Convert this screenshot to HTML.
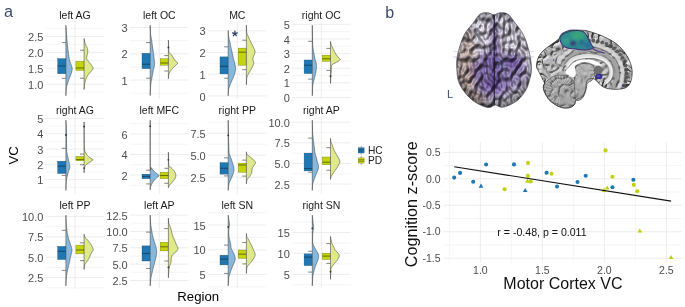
<!DOCTYPE html>
<html><head><meta charset="utf-8"><style>
html,body{margin:0;padding:0;background:#fff;}
svg{display:block;font-family:"Liberation Sans", sans-serif;will-change:transform;}
</style></head><body>
<svg width="685" height="307" viewBox="0 0 685 307">
<rect width="685" height="307" fill="#fff"/>
<line x1="45.7" x2="104.3" y1="92.17" y2="92.17" stroke="#ebebeb" stroke-width="0.5"/>
<line x1="45.7" x2="104.3" y1="76.24" y2="76.24" stroke="#ebebeb" stroke-width="0.5"/>
<line x1="45.7" x2="104.3" y1="60.3" y2="60.3" stroke="#ebebeb" stroke-width="0.5"/>
<line x1="45.7" x2="104.3" y1="44.37" y2="44.37" stroke="#ebebeb" stroke-width="0.5"/>
<line x1="45.7" x2="104.3" y1="28.43" y2="28.43" stroke="#ebebeb" stroke-width="0.5"/>
<line x1="45.7" x2="104.3" y1="84.2" y2="84.2" stroke="#ebebeb" stroke-width="0.9"/>
<line x1="45.7" x2="104.3" y1="68.27" y2="68.27" stroke="#ebebeb" stroke-width="0.9"/>
<line x1="45.7" x2="104.3" y1="52.34" y2="52.34" stroke="#ebebeb" stroke-width="0.9"/>
<line x1="45.7" x2="104.3" y1="36.4" y2="36.4" stroke="#ebebeb" stroke-width="0.9"/>
<line x1="75" x2="75" y1="21.9" y2="99" stroke="#ebebeb" stroke-width="0.9"/>
<text x="43.4" y="88.8" text-anchor="end" font-size="11" fill="#4d4d4d">1.0</text>
<text x="43.4" y="72.87" text-anchor="end" font-size="11" fill="#4d4d4d">1.5</text>
<text x="43.4" y="56.94" text-anchor="end" font-size="11" fill="#4d4d4d">2.0</text>
<text x="43.4" y="41" text-anchor="end" font-size="11" fill="#4d4d4d">2.5</text>
<text x="75" y="18.9" text-anchor="middle" font-size="10.5" fill="#1a1a1a">left AG</text>
<rect x="57.7" y="58.7" width="8.2" height="15" fill="#1f78b4" stroke="#164a70" stroke-width="0.35"/>
<line x1="57.7" x2="65.9" y1="65.9" y2="65.9" stroke="#164a70" stroke-width="1.1"/>
<line x1="61.8" x2="65.9" y1="42.6" y2="42.6" stroke="#505050" stroke-width="0.7"/>
<line x1="61.8" x2="65.9" y1="78.4" y2="78.4" stroke="#505050" stroke-width="0.7"/>
<path d="M65.90,25.30 L65.90,25.30 L65.97,26.38 L66.07,27.89 L66.18,29.66 L66.31,31.55 L66.43,33.38 L66.55,35.00 L66.66,36.41 L66.76,37.74 L66.86,39.01 L66.96,40.26 L67.08,41.52 L67.20,42.80 L67.33,44.11 L67.47,45.43 L67.62,46.75 L67.78,48.07 L67.94,49.39 L68.10,50.70 L68.27,52.05 L68.45,53.45 L68.64,54.84 L68.83,56.19 L69.01,57.42 L69.20,58.50 L69.38,59.40 L69.57,60.15 L69.75,60.80 L69.93,61.38 L70.12,61.94 L70.30,62.50 L70.49,63.06 L70.68,63.57 L70.87,64.06 L71.06,64.54 L71.23,65.01 L71.40,65.50 L71.56,66.01 L71.73,66.52 L71.89,67.03 L72.03,67.54 L72.13,68.03 L72.20,68.50 L72.22,68.93 L72.21,69.31 L72.18,69.69 L72.11,70.07 L72.01,70.50 L71.90,71.00 L71.76,71.58 L71.58,72.23 L71.38,72.92 L71.16,73.63 L70.93,74.33 L70.70,75.00 L70.45,75.64 L70.19,76.27 L69.91,76.90 L69.63,77.53 L69.35,78.16 L69.10,78.80 L68.86,79.46 L68.64,80.12 L68.43,80.79 L68.21,81.47 L68.01,82.14 L67.80,82.80 L67.58,83.46 L67.36,84.13 L67.14,84.79 L66.94,85.45 L66.75,86.09 L66.60,86.70 L66.49,87.26 L66.40,87.76 L66.34,88.24 L66.30,88.74 L66.25,89.32 L66.20,90.00 L66.14,90.88 L66.08,91.93 L66.03,93.06 L65.97,94.13 L65.93,95.05 L65.90,95.70 L65.90,95.70 Z" fill="#86b8de" stroke="#3c3c3c" stroke-width="0.55" stroke-linejoin="round"/>
<rect x="75.9" y="61.3" width="8.2" height="9.1" fill="#c4d40e" stroke="#6b7400" stroke-width="0.35"/>
<line x1="75.9" x2="84.1" y1="68" y2="68" stroke="#6b7400" stroke-width="1.1"/>
<line x1="80" x2="84.1" y1="50.2" y2="50.2" stroke="#505050" stroke-width="0.7"/>
<line x1="80" x2="84.1" y1="78.2" y2="78.2" stroke="#505050" stroke-width="0.7"/>
<path d="M84.10,38.50 L84.10,38.50 L84.15,38.77 L84.22,39.13 L84.30,39.56 L84.39,40.03 L84.49,40.52 L84.60,41.00 L84.71,41.48 L84.81,41.98 L84.93,42.50 L85.06,43.03 L85.22,43.56 L85.40,44.10 L85.63,44.65 L85.91,45.21 L86.21,45.78 L86.50,46.34 L86.78,46.89 L87.00,47.40 L87.18,47.87 L87.33,48.29 L87.46,48.70 L87.56,49.11 L87.64,49.53 L87.70,50.00 L87.74,50.51 L87.75,51.05 L87.74,51.61 L87.71,52.18 L87.67,52.75 L87.60,53.30 L87.50,53.85 L87.36,54.40 L87.19,54.94 L87.03,55.48 L86.90,56.00 L86.80,56.50 L86.73,56.97 L86.66,57.40 L86.62,57.83 L86.61,58.24 L86.67,58.66 L86.80,59.10 L87.02,59.54 L87.31,59.98 L87.66,60.42 L88.06,60.88 L88.47,61.37 L88.90,61.90 L89.37,62.50 L89.90,63.17 L90.46,63.86 L91.00,64.56 L91.49,65.21 L91.90,65.80 L92.24,66.31 L92.54,66.76 L92.79,67.18 L92.97,67.58 L93.08,67.98 L93.10,68.40 L93.02,68.82 L92.84,69.21 L92.59,69.61 L92.28,70.03 L91.91,70.49 L91.50,71.00 L91.01,71.59 L90.41,72.24 L89.77,72.93 L89.12,73.63 L88.51,74.33 L88.00,75.00 L87.58,75.64 L87.23,76.27 L86.91,76.90 L86.63,77.53 L86.36,78.16 L86.10,78.80 L85.84,79.46 L85.59,80.15 L85.36,80.84 L85.14,81.52 L84.96,82.18 L84.80,82.80 L84.68,83.38 L84.60,83.91 L84.54,84.43 L84.49,84.94 L84.45,85.46 L84.40,86.00 L84.34,86.61 L84.28,87.27 L84.22,87.95 L84.17,88.58 L84.13,89.12 L84.10,89.50 L84.10,89.50 Z" fill="#e0e98a" stroke="#3c3c3c" stroke-width="0.55" stroke-linejoin="round"/>
<line x1="130" x2="188.6" y1="93.25" y2="93.25" stroke="#ebebeb" stroke-width="0.5"/>
<line x1="130" x2="188.6" y1="66.95" y2="66.95" stroke="#ebebeb" stroke-width="0.5"/>
<line x1="130" x2="188.6" y1="40.65" y2="40.65" stroke="#ebebeb" stroke-width="0.5"/>
<line x1="130" x2="188.6" y1="80.1" y2="80.1" stroke="#ebebeb" stroke-width="0.9"/>
<line x1="130" x2="188.6" y1="53.8" y2="53.8" stroke="#ebebeb" stroke-width="0.9"/>
<line x1="130" x2="188.6" y1="27.5" y2="27.5" stroke="#ebebeb" stroke-width="0.9"/>
<line x1="159.3" x2="159.3" y1="21.9" y2="99" stroke="#ebebeb" stroke-width="0.9"/>
<text x="127.7" y="84.7" text-anchor="end" font-size="11" fill="#4d4d4d">1</text>
<text x="127.7" y="58.4" text-anchor="end" font-size="11" fill="#4d4d4d">2</text>
<text x="127.7" y="32.1" text-anchor="end" font-size="11" fill="#4d4d4d">3</text>
<text x="159.3" y="18.9" text-anchor="middle" font-size="10.5" fill="#1a1a1a">left OC</text>
<rect x="142" y="53.3" width="8.2" height="15.3" fill="#1f78b4" stroke="#164a70" stroke-width="0.35"/>
<line x1="142" x2="150.2" y1="64.2" y2="64.2" stroke="#164a70" stroke-width="1.1"/>
<line x1="146.1" x2="150.2" y1="42.6" y2="42.6" stroke="#505050" stroke-width="0.7"/>
<line x1="146.1" x2="150.2" y1="78.2" y2="78.2" stroke="#505050" stroke-width="0.7"/>
<path d="M150.20,25.30 L150.20,25.30 L150.25,26.42 L150.32,28.03 L150.40,29.91 L150.49,31.84 L150.59,33.61 L150.70,35.00 L150.82,35.99 L150.96,36.73 L151.10,37.31 L151.24,37.81 L151.38,38.32 L151.50,38.90 L151.60,39.53 L151.68,40.15 L151.76,40.76 L151.83,41.40 L151.91,42.07 L152.00,42.80 L152.10,43.60 L152.21,44.47 L152.33,45.37 L152.45,46.29 L152.58,47.21 L152.70,48.10 L152.83,48.97 L152.97,49.84 L153.11,50.71 L153.24,51.57 L153.38,52.43 L153.50,53.30 L153.61,54.19 L153.72,55.10 L153.82,56.01 L153.91,56.89 L154.01,57.73 L154.10,58.50 L154.20,59.18 L154.30,59.78 L154.40,60.34 L154.49,60.87 L154.56,61.42 L154.60,62.00 L154.62,62.61 L154.61,63.24 L154.59,63.88 L154.54,64.51 L154.48,65.16 L154.40,65.80 L154.29,66.44 L154.15,67.09 L153.99,67.74 L153.82,68.40 L153.65,69.05 L153.50,69.70 L153.36,70.35 L153.22,71.00 L153.09,71.65 L152.96,72.30 L152.83,72.95 L152.70,73.60 L152.58,74.25 L152.46,74.90 L152.35,75.54 L152.24,76.19 L152.12,76.84 L152.00,77.50 L151.87,78.16 L151.73,78.83 L151.59,79.50 L151.45,80.17 L151.32,80.84 L151.20,81.50 L151.10,82.15 L151.00,82.78 L150.92,83.41 L150.84,84.05 L150.77,84.71 L150.70,85.40 L150.64,86.12 L150.58,86.85 L150.53,87.60 L150.49,88.37 L150.44,89.17 L150.40,90.00 L150.36,90.93 L150.32,91.97 L150.28,93.04 L150.25,94.04 L150.22,94.89 L150.20,95.50 L150.20,95.50 Z" fill="#86b8de" stroke="#3c3c3c" stroke-width="0.55" stroke-linejoin="round"/>
<rect x="160.2" y="58.8" width="8.2" height="6.4" fill="#c4d40e" stroke="#6b7400" stroke-width="0.35"/>
<line x1="160.2" x2="168.4" y1="63" y2="63" stroke="#6b7400" stroke-width="1.1"/>
<line x1="164.3" x2="168.4" y1="55.6" y2="55.6" stroke="#505050" stroke-width="0.7"/>
<line x1="164.3" x2="168.4" y1="71" y2="71" stroke="#505050" stroke-width="0.7"/>
<path d="M168.40,40.20 L168.40,40.20 L168.43,40.96 L168.48,42.03 L168.54,43.29 L168.60,44.61 L168.65,45.89 L168.70,47.00 L168.72,47.97 L168.72,48.91 L168.71,49.81 L168.73,50.63 L168.78,51.37 L168.90,52.00 L169.09,52.49 L169.34,52.84 L169.64,53.10 L169.96,53.33 L170.28,53.58 L170.60,53.90 L170.92,54.29 L171.26,54.71 L171.61,55.16 L171.96,55.61 L172.29,56.06 L172.60,56.50 L172.88,56.94 L173.14,57.39 L173.38,57.84 L173.62,58.28 L173.86,58.70 L174.10,59.10 L174.34,59.47 L174.58,59.81 L174.82,60.13 L175.06,60.45 L175.32,60.77 L175.60,61.10 L175.96,61.44 L176.39,61.77 L176.84,62.11 L177.24,62.46 L177.52,62.82 L177.60,63.20 L177.46,63.60 L177.13,64.03 L176.69,64.47 L176.18,64.91 L175.66,65.36 L175.20,65.80 L174.77,66.23 L174.33,66.67 L173.88,67.10 L173.43,67.53 L173.00,67.97 L172.60,68.40 L172.23,68.83 L171.87,69.27 L171.54,69.70 L171.21,70.13 L170.90,70.57 L170.60,71.00 L170.30,71.44 L169.99,71.87 L169.70,72.31 L169.43,72.75 L169.19,73.18 L169.00,73.60 L168.86,74.01 L168.77,74.40 L168.71,74.79 L168.67,75.18 L168.64,75.58 L168.60,76.00 L168.55,76.48 L168.51,77.01 L168.47,77.55 L168.44,78.06 L168.42,78.49 L168.40,78.80 L168.40,78.80 Z" fill="#e0e98a" stroke="#3c3c3c" stroke-width="0.55" stroke-linejoin="round"/>
<circle cx="168.4" cy="47.4" r="0.9" fill="#333"/>
<line x1="208" x2="266.6" y1="85.04" y2="85.04" stroke="#ebebeb" stroke-width="0.5"/>
<line x1="208" x2="266.6" y1="63.31" y2="63.31" stroke="#ebebeb" stroke-width="0.5"/>
<line x1="208" x2="266.6" y1="41.58" y2="41.58" stroke="#ebebeb" stroke-width="0.5"/>
<line x1="208" x2="266.6" y1="95.9" y2="95.9" stroke="#ebebeb" stroke-width="0.9"/>
<line x1="208" x2="266.6" y1="74.17" y2="74.17" stroke="#ebebeb" stroke-width="0.9"/>
<line x1="208" x2="266.6" y1="52.44" y2="52.44" stroke="#ebebeb" stroke-width="0.9"/>
<line x1="208" x2="266.6" y1="30.71" y2="30.71" stroke="#ebebeb" stroke-width="0.9"/>
<line x1="237.3" x2="237.3" y1="21.9" y2="99" stroke="#ebebeb" stroke-width="0.9"/>
<text x="205.7" y="100.5" text-anchor="end" font-size="11" fill="#4d4d4d">0</text>
<text x="205.7" y="78.77" text-anchor="end" font-size="11" fill="#4d4d4d">1</text>
<text x="205.7" y="57.04" text-anchor="end" font-size="11" fill="#4d4d4d">2</text>
<text x="205.7" y="35.31" text-anchor="end" font-size="11" fill="#4d4d4d">3</text>
<text x="237.3" y="18.9" text-anchor="middle" font-size="10.5" fill="#1a1a1a">MC</text>
<rect x="220" y="56.9" width="8.2" height="17" fill="#1f78b4" stroke="#164a70" stroke-width="0.35"/>
<line x1="220" x2="228.2" y1="66.3" y2="66.3" stroke="#164a70" stroke-width="1.1"/>
<line x1="224.1" x2="228.2" y1="46.8" y2="46.8" stroke="#505050" stroke-width="0.7"/>
<line x1="224.1" x2="228.2" y1="78.2" y2="78.2" stroke="#505050" stroke-width="0.7"/>
<path d="M228.20,30.50 L228.20,30.50 L228.23,31.00 L228.27,31.69 L228.31,32.51 L228.37,33.38 L228.43,34.23 L228.50,35.00 L228.58,35.68 L228.67,36.34 L228.76,36.99 L228.87,37.62 L228.98,38.26 L229.10,38.90 L229.23,39.55 L229.38,40.20 L229.54,40.84 L229.70,41.49 L229.85,42.14 L230.00,42.80 L230.14,43.46 L230.27,44.13 L230.40,44.80 L230.53,45.47 L230.66,46.14 L230.80,46.80 L230.94,47.46 L231.09,48.11 L231.24,48.76 L231.40,49.40 L231.55,50.05 L231.70,50.70 L231.85,51.35 L232.00,52.00 L232.16,52.65 L232.31,53.30 L232.46,53.95 L232.60,54.60 L232.73,55.24 L232.86,55.87 L232.98,56.50 L233.10,57.14 L233.24,57.80 L233.40,58.50 L233.59,59.23 L233.81,59.99 L234.04,60.77 L234.28,61.57 L234.50,62.38 L234.70,63.20 L234.89,64.05 L235.09,64.94 L235.27,65.85 L235.43,66.74 L235.54,67.60 L235.60,68.40 L235.59,69.13 L235.54,69.80 L235.44,70.43 L235.31,71.05 L235.16,71.67 L235.00,72.30 L234.83,72.95 L234.63,73.60 L234.41,74.25 L234.18,74.90 L233.94,75.55 L233.70,76.20 L233.45,76.85 L233.19,77.50 L232.93,78.14 L232.65,78.79 L232.38,79.44 L232.10,80.10 L231.82,80.76 L231.53,81.43 L231.24,82.10 L230.96,82.77 L230.67,83.44 L230.40,84.10 L230.13,84.77 L229.84,85.46 L229.57,86.14 L229.31,86.80 L229.08,87.43 L228.90,88.00 L228.77,88.48 L228.68,88.87 L228.63,89.22 L228.59,89.60 L228.55,90.04 L228.50,90.60 L228.44,91.36 L228.38,92.30 L228.33,93.31 L228.27,94.29 L228.23,95.12 L228.20,95.70 L228.20,95.70 Z" fill="#86b8de" stroke="#3c3c3c" stroke-width="0.55" stroke-linejoin="round"/>
<rect x="238.2" y="48.1" width="8.2" height="17.1" fill="#c4d40e" stroke="#6b7400" stroke-width="0.35"/>
<line x1="238.2" x2="246.4" y1="52.2" y2="52.2" stroke="#6b7400" stroke-width="1.1"/>
<line x1="242.3" x2="246.4" y1="40.2" y2="40.2" stroke="#505050" stroke-width="0.7"/>
<line x1="242.3" x2="246.4" y1="69.7" y2="69.7" stroke="#505050" stroke-width="0.7"/>
<path d="M246.40,25.30 L246.40,25.30 L246.42,26.12 L246.45,27.31 L246.49,28.69 L246.54,30.10 L246.61,31.39 L246.70,32.40 L246.82,33.08 L246.96,33.55 L247.12,33.90 L247.30,34.20 L247.49,34.54 L247.70,35.00 L247.93,35.57 L248.18,36.20 L248.44,36.87 L248.72,37.55 L249.01,38.23 L249.30,38.90 L249.60,39.55 L249.91,40.20 L250.22,40.84 L250.55,41.49 L250.87,42.14 L251.20,42.80 L251.53,43.46 L251.87,44.13 L252.21,44.80 L252.55,45.47 L252.88,46.14 L253.20,46.80 L253.53,47.46 L253.87,48.13 L254.20,48.80 L254.50,49.46 L254.74,50.09 L254.90,50.70 L254.97,51.27 L254.96,51.81 L254.89,52.34 L254.78,52.85 L254.64,53.37 L254.50,53.90 L254.32,54.45 L254.09,55.02 L253.84,55.59 L253.59,56.15 L253.36,56.69 L253.20,57.20 L253.09,57.68 L253.02,58.13 L252.97,58.57 L252.96,58.99 L252.97,59.40 L253.00,59.80 L253.08,60.19 L253.20,60.55 L253.36,60.91 L253.51,61.26 L253.63,61.62 L253.70,62.00 L253.73,62.38 L253.73,62.76 L253.71,63.14 L253.65,63.55 L253.55,64.00 L253.40,64.50 L253.19,65.07 L252.93,65.70 L252.62,66.36 L252.29,67.05 L251.95,67.73 L251.60,68.40 L251.24,69.05 L250.86,69.70 L250.46,70.35 L250.06,71.00 L249.67,71.65 L249.30,72.30 L248.93,72.97 L248.56,73.65 L248.19,74.33 L247.85,75.00 L247.55,75.63 L247.30,76.20 L247.12,76.67 L246.99,77.04 L246.89,77.38 L246.83,77.74 L246.77,78.19 L246.70,78.80 L246.63,79.66 L246.57,80.74 L246.51,81.91 L246.47,83.05 L246.43,84.02 L246.40,84.70 L246.40,84.70 Z" fill="#e0e98a" stroke="#3c3c3c" stroke-width="0.55" stroke-linejoin="round"/>
<line x1="292.1" x2="350.7" y1="90.15" y2="90.15" stroke="#ebebeb" stroke-width="0.5"/>
<line x1="292.1" x2="350.7" y1="75.53" y2="75.53" stroke="#ebebeb" stroke-width="0.5"/>
<line x1="292.1" x2="350.7" y1="60.91" y2="60.91" stroke="#ebebeb" stroke-width="0.5"/>
<line x1="292.1" x2="350.7" y1="46.29" y2="46.29" stroke="#ebebeb" stroke-width="0.5"/>
<line x1="292.1" x2="350.7" y1="31.67" y2="31.67" stroke="#ebebeb" stroke-width="0.5"/>
<line x1="292.1" x2="350.7" y1="97.46" y2="97.46" stroke="#ebebeb" stroke-width="0.9"/>
<line x1="292.1" x2="350.7" y1="82.84" y2="82.84" stroke="#ebebeb" stroke-width="0.9"/>
<line x1="292.1" x2="350.7" y1="68.22" y2="68.22" stroke="#ebebeb" stroke-width="0.9"/>
<line x1="292.1" x2="350.7" y1="53.6" y2="53.6" stroke="#ebebeb" stroke-width="0.9"/>
<line x1="292.1" x2="350.7" y1="38.98" y2="38.98" stroke="#ebebeb" stroke-width="0.9"/>
<line x1="292.1" x2="350.7" y1="24.36" y2="24.36" stroke="#ebebeb" stroke-width="0.9"/>
<line x1="321.4" x2="321.4" y1="21.9" y2="99" stroke="#ebebeb" stroke-width="0.9"/>
<text x="289.8" y="102.06" text-anchor="end" font-size="11" fill="#4d4d4d">0</text>
<text x="289.8" y="87.44" text-anchor="end" font-size="11" fill="#4d4d4d">1</text>
<text x="289.8" y="72.82" text-anchor="end" font-size="11" fill="#4d4d4d">2</text>
<text x="289.8" y="58.2" text-anchor="end" font-size="11" fill="#4d4d4d">3</text>
<text x="289.8" y="43.58" text-anchor="end" font-size="11" fill="#4d4d4d">4</text>
<text x="289.8" y="28.96" text-anchor="end" font-size="11" fill="#4d4d4d">5</text>
<text x="321.4" y="18.9" text-anchor="middle" font-size="10.5" fill="#1a1a1a">right OC</text>
<rect x="304.1" y="60" width="8.2" height="13.6" fill="#1f78b4" stroke="#164a70" stroke-width="0.35"/>
<line x1="304.1" x2="312.3" y1="65.2" y2="65.2" stroke="#164a70" stroke-width="1.1"/>
<line x1="308.2" x2="312.3" y1="41.3" y2="41.3" stroke="#505050" stroke-width="0.7"/>
<line x1="308.2" x2="312.3" y1="79.1" y2="79.1" stroke="#505050" stroke-width="0.7"/>
<path d="M312.30,25.30 L312.30,25.30 L312.33,27.35 L312.37,30.29 L312.42,33.72 L312.48,37.22 L312.54,40.39 L312.60,42.80 L312.66,44.39 L312.71,45.47 L312.76,46.22 L312.83,46.79 L312.90,47.36 L313.00,48.10 L313.12,48.97 L313.26,49.84 L313.41,50.71 L313.57,51.57 L313.74,52.43 L313.90,53.30 L314.06,54.19 L314.23,55.10 L314.39,56.01 L314.56,56.90 L314.73,57.74 L314.90,58.50 L315.07,59.17 L315.25,59.75 L315.42,60.28 L315.60,60.80 L315.76,61.33 L315.90,61.90 L316.03,62.52 L316.16,63.16 L316.28,63.82 L316.38,64.48 L316.46,65.14 L316.50,65.80 L316.51,66.45 L316.48,67.10 L316.42,67.75 L316.36,68.40 L316.28,69.05 L316.20,69.70 L316.12,70.35 L316.04,71.00 L315.94,71.65 L315.84,72.30 L315.73,72.95 L315.60,73.60 L315.46,74.25 L315.30,74.90 L315.12,75.54 L314.95,76.19 L314.77,76.84 L314.60,77.50 L314.43,78.16 L314.26,78.83 L314.09,79.50 L313.92,80.17 L313.76,80.84 L313.60,81.50 L313.45,82.15 L313.30,82.78 L313.16,83.41 L313.02,84.05 L312.90,84.71 L312.80,85.40 L312.72,86.11 L312.66,86.84 L312.61,87.59 L312.57,88.36 L312.54,89.16 L312.50,90.00 L312.46,90.95 L312.42,92.03 L312.38,93.14 L312.35,94.18 L312.32,95.07 L312.30,95.70 L312.30,95.70 Z" fill="#86b8de" stroke="#3c3c3c" stroke-width="0.55" stroke-linejoin="round"/>
<rect x="322.3" y="55.2" width="8.2" height="6.1" fill="#c4d40e" stroke="#6b7400" stroke-width="0.35"/>
<line x1="322.3" x2="330.5" y1="58.8" y2="58.8" stroke="#6b7400" stroke-width="1.1"/>
<line x1="326.4" x2="330.5" y1="48.4" y2="48.4" stroke="#505050" stroke-width="0.7"/>
<line x1="326.4" x2="330.5" y1="70.4" y2="70.4" stroke="#505050" stroke-width="0.7"/>
<path d="M330.50,41.30 L330.50,41.30 L330.55,41.61 L330.61,42.03 L330.68,42.53 L330.77,43.07 L330.88,43.61 L331.00,44.10 L331.14,44.54 L331.29,44.96 L331.46,45.38 L331.65,45.81 L331.86,46.28 L332.10,46.80 L332.37,47.38 L332.66,48.01 L332.98,48.67 L333.31,49.36 L333.66,50.04 L334.00,50.70 L334.35,51.36 L334.70,52.03 L335.07,52.69 L335.44,53.35 L335.82,53.99 L336.20,54.60 L336.60,55.19 L337.02,55.78 L337.44,56.35 L337.86,56.89 L338.25,57.37 L338.60,57.80 L338.93,58.15 L339.26,58.43 L339.56,58.67 L339.81,58.88 L340.00,59.08 L340.10,59.30 L340.12,59.52 L340.06,59.72 L339.94,59.92 L339.76,60.12 L339.51,60.35 L339.20,60.60 L338.81,60.89 L338.32,61.22 L337.77,61.56 L337.19,61.91 L336.59,62.26 L336.00,62.60 L335.38,62.93 L334.70,63.26 L334.00,63.58 L333.34,63.90 L332.75,64.21 L332.30,64.50 L331.99,64.73 L331.79,64.90 L331.68,65.06 L331.61,65.26 L331.56,65.55 L331.50,66.00 L331.45,66.64 L331.43,67.44 L331.43,68.34 L331.43,69.28 L331.43,70.18 L331.40,71.00 L331.35,71.71 L331.29,72.37 L331.21,73.00 L331.14,73.63 L331.06,74.29 L331.00,75.00 L330.94,75.79 L330.89,76.65 L330.84,77.54 L330.79,78.41 L330.74,79.25 L330.70,80.00 L330.66,80.70 L330.62,81.38 L330.58,82.01 L330.55,82.58 L330.52,83.05 L330.50,83.40 L330.50,83.40 Z" fill="#e0e98a" stroke="#3c3c3c" stroke-width="0.55" stroke-linejoin="round"/>
<circle cx="330.5" cy="76.2" r="0.9" fill="#333"/>
<line x1="45.7" x2="104.3" y1="187.25" y2="187.25" stroke="#ebebeb" stroke-width="0.5"/>
<line x1="45.7" x2="104.3" y1="171.95" y2="171.95" stroke="#ebebeb" stroke-width="0.5"/>
<line x1="45.7" x2="104.3" y1="156.65" y2="156.65" stroke="#ebebeb" stroke-width="0.5"/>
<line x1="45.7" x2="104.3" y1="141.35" y2="141.35" stroke="#ebebeb" stroke-width="0.5"/>
<line x1="45.7" x2="104.3" y1="126.05" y2="126.05" stroke="#ebebeb" stroke-width="0.5"/>
<line x1="45.7" x2="104.3" y1="179.6" y2="179.6" stroke="#ebebeb" stroke-width="0.9"/>
<line x1="45.7" x2="104.3" y1="164.3" y2="164.3" stroke="#ebebeb" stroke-width="0.9"/>
<line x1="45.7" x2="104.3" y1="149" y2="149" stroke="#ebebeb" stroke-width="0.9"/>
<line x1="45.7" x2="104.3" y1="133.7" y2="133.7" stroke="#ebebeb" stroke-width="0.9"/>
<line x1="45.7" x2="104.3" y1="118.4" y2="118.4" stroke="#ebebeb" stroke-width="0.9"/>
<line x1="75" x2="75" y1="116.7" y2="193.8" stroke="#ebebeb" stroke-width="0.9"/>
<text x="43.4" y="184.2" text-anchor="end" font-size="11" fill="#4d4d4d">1</text>
<text x="43.4" y="168.9" text-anchor="end" font-size="11" fill="#4d4d4d">2</text>
<text x="43.4" y="153.6" text-anchor="end" font-size="11" fill="#4d4d4d">3</text>
<text x="43.4" y="138.3" text-anchor="end" font-size="11" fill="#4d4d4d">4</text>
<text x="43.4" y="123" text-anchor="end" font-size="11" fill="#4d4d4d">5</text>
<text x="75" y="113.7" text-anchor="middle" font-size="10.5" fill="#1a1a1a">right AG</text>
<rect x="57.7" y="161.2" width="8.2" height="12.3" fill="#1f78b4" stroke="#164a70" stroke-width="0.35"/>
<line x1="57.7" x2="65.9" y1="166.1" y2="166.1" stroke="#164a70" stroke-width="1.1"/>
<line x1="61.8" x2="65.9" y1="148.3" y2="148.3" stroke="#505050" stroke-width="0.7"/>
<line x1="61.8" x2="65.9" y1="175.4" y2="175.4" stroke="#505050" stroke-width="0.7"/>
<path d="M65.90,120.20 L65.90,120.20 L65.96,121.03 L66.04,122.08 L66.14,123.38 L66.24,124.94 L66.33,126.81 L66.40,129.00 L66.45,131.83 L66.49,135.33 L66.52,139.14 L66.54,142.87 L66.57,146.15 L66.60,148.60 L66.62,150.08 L66.63,150.87 L66.64,151.20 L66.67,151.33 L66.71,151.52 L66.80,152.00 L66.93,152.78 L67.11,153.65 L67.31,154.57 L67.51,155.50 L67.72,156.39 L67.90,157.20 L68.06,157.93 L68.22,158.60 L68.37,159.23 L68.51,159.85 L68.66,160.47 L68.80,161.10 L68.95,161.77 L69.10,162.47 L69.24,163.16 L69.38,163.83 L69.50,164.45 L69.60,165.00 L69.68,165.44 L69.75,165.80 L69.80,166.11 L69.83,166.41 L69.83,166.72 L69.80,167.10 L69.73,167.54 L69.61,168.01 L69.47,168.51 L69.31,169.01 L69.15,169.51 L69.00,170.00 L68.86,170.46 L68.71,170.90 L68.56,171.33 L68.41,171.78 L68.26,172.27 L68.10,172.80 L67.94,173.40 L67.76,174.05 L67.59,174.73 L67.41,175.43 L67.25,176.13 L67.10,176.80 L66.96,177.45 L66.83,178.09 L66.71,178.73 L66.59,179.37 L66.49,180.03 L66.40,180.70 L66.33,181.38 L66.27,182.06 L66.22,182.76 L66.18,183.47 L66.14,184.22 L66.10,185.00 L66.06,185.90 L66.02,186.92 L65.98,187.97 L65.95,188.96 L65.92,189.80 L65.90,190.40 L65.90,190.40 Z" fill="#86b8de" stroke="#3c3c3c" stroke-width="0.55" stroke-linejoin="round"/>
<circle cx="65.9" cy="135" r="0.9" fill="#333"/>
<rect x="75.9" y="156.4" width="8.2" height="4.4" fill="#c4d40e" stroke="#6b7400" stroke-width="0.35"/>
<line x1="75.9" x2="84.1" y1="159.6" y2="159.6" stroke="#6b7400" stroke-width="1.1"/>
<line x1="80" x2="84.1" y1="154.1" y2="154.1" stroke="#505050" stroke-width="0.7"/>
<line x1="80" x2="84.1" y1="164.7" y2="164.7" stroke="#505050" stroke-width="0.7"/>
<path d="M84.10,121.90 L84.10,121.90 L84.12,125.01 L84.14,129.54 L84.17,134.79 L84.21,140.08 L84.25,144.71 L84.30,148.00 L84.35,149.79 L84.40,150.60 L84.46,150.76 L84.53,150.58 L84.61,150.39 L84.70,150.50 L84.81,150.86 L84.92,151.20 L85.05,151.53 L85.19,151.85 L85.34,152.17 L85.50,152.50 L85.67,152.83 L85.85,153.17 L86.04,153.50 L86.24,153.83 L86.46,154.17 L86.70,154.50 L86.96,154.84 L87.23,155.17 L87.52,155.51 L87.83,155.85 L88.16,156.18 L88.50,156.50 L88.87,156.82 L89.27,157.13 L89.68,157.44 L90.10,157.74 L90.51,158.03 L90.90,158.30 L91.31,158.56 L91.75,158.80 L92.18,159.03 L92.56,159.26 L92.85,159.48 L93.00,159.70 L92.99,159.92 L92.86,160.13 L92.63,160.34 L92.34,160.56 L92.02,160.77 L91.70,161.00 L91.36,161.24 L90.97,161.49 L90.56,161.74 L90.13,161.99 L89.70,162.25 L89.30,162.50 L88.92,162.75 L88.53,162.99 L88.16,163.24 L87.79,163.49 L87.44,163.74 L87.10,164.00 L86.78,164.27 L86.47,164.54 L86.17,164.83 L85.89,165.11 L85.63,165.40 L85.40,165.70 L85.20,165.97 L85.02,166.20 L84.87,166.43 L84.73,166.71 L84.61,167.09 L84.50,167.60 L84.40,168.34 L84.31,169.28 L84.24,170.32 L84.19,171.33 L84.14,172.20 L84.10,172.80 L84.10,172.80 Z" fill="#e0e98a" stroke="#3c3c3c" stroke-width="0.55" stroke-linejoin="round"/>
<circle cx="84.1" cy="126.4" r="0.9" fill="#333"/>
<circle cx="84.1" cy="168.1" r="0.9" fill="#333"/>
<line x1="130" x2="188.6" y1="185.4" y2="185.4" stroke="#ebebeb" stroke-width="0.5"/>
<line x1="130" x2="188.6" y1="164.8" y2="164.8" stroke="#ebebeb" stroke-width="0.5"/>
<line x1="130" x2="188.6" y1="144.2" y2="144.2" stroke="#ebebeb" stroke-width="0.5"/>
<line x1="130" x2="188.6" y1="123.6" y2="123.6" stroke="#ebebeb" stroke-width="0.5"/>
<line x1="130" x2="188.6" y1="175.1" y2="175.1" stroke="#ebebeb" stroke-width="0.9"/>
<line x1="130" x2="188.6" y1="154.5" y2="154.5" stroke="#ebebeb" stroke-width="0.9"/>
<line x1="130" x2="188.6" y1="133.9" y2="133.9" stroke="#ebebeb" stroke-width="0.9"/>
<line x1="159.3" x2="159.3" y1="116.7" y2="193.8" stroke="#ebebeb" stroke-width="0.9"/>
<text x="127.7" y="179.7" text-anchor="end" font-size="11" fill="#4d4d4d">2</text>
<text x="127.7" y="159.1" text-anchor="end" font-size="11" fill="#4d4d4d">4</text>
<text x="127.7" y="138.5" text-anchor="end" font-size="11" fill="#4d4d4d">6</text>
<text x="159.3" y="113.7" text-anchor="middle" font-size="10.5" fill="#1a1a1a">left MFC</text>
<rect x="142" y="174.2" width="8.2" height="4.5" fill="#1f78b4" stroke="#164a70" stroke-width="0.35"/>
<line x1="142" x2="150.2" y1="176.5" y2="176.5" stroke="#164a70" stroke-width="1.1"/>
<line x1="146.1" x2="150.2" y1="170.2" y2="170.2" stroke="#505050" stroke-width="0.7"/>
<line x1="146.1" x2="150.2" y1="183.9" y2="183.9" stroke="#505050" stroke-width="0.7"/>
<path d="M150.20,120.20 L150.20,120.20 L150.20,125.73 L150.20,133.81 L150.20,143.17 L150.20,152.54 L150.24,160.68 L150.30,166.30 L150.39,169.09 L150.50,170.00 L150.63,169.67 L150.79,168.73 L150.98,167.83 L151.20,167.60 L151.46,167.96 L151.76,168.37 L152.09,168.82 L152.45,169.29 L152.82,169.75 L153.20,170.20 L153.59,170.63 L154.00,171.06 L154.42,171.49 L154.86,171.93 L155.32,172.36 L155.80,172.80 L156.37,173.25 L157.04,173.72 L157.74,174.19 L158.37,174.66 L158.85,175.10 L159.10,175.50 L159.08,175.85 L158.85,176.17 L158.47,176.46 L158.01,176.74 L157.53,177.05 L157.10,177.40 L156.70,177.78 L156.27,178.19 L155.82,178.61 L155.37,179.06 L154.92,179.52 L154.50,180.00 L154.09,180.51 L153.69,181.05 L153.29,181.61 L152.90,182.18 L152.54,182.75 L152.20,183.30 L151.88,183.84 L151.57,184.37 L151.28,184.90 L151.02,185.43 L150.79,185.96 L150.60,186.50 L150.46,187.08 L150.36,187.71 L150.30,188.35 L150.26,188.94 L150.23,189.44 L150.20,189.80 L150.20,189.80 Z" fill="#86b8de" stroke="#3c3c3c" stroke-width="0.55" stroke-linejoin="round"/>
<circle cx="150.2" cy="126.2" r="0.9" fill="#333"/>
<rect x="160.2" y="172.2" width="8.2" height="6.5" fill="#c4d40e" stroke="#6b7400" stroke-width="0.35"/>
<line x1="160.2" x2="168.4" y1="175.5" y2="175.5" stroke="#6b7400" stroke-width="1.1"/>
<line x1="164.3" x2="168.4" y1="168.3" y2="168.3" stroke="#505050" stroke-width="0.7"/>
<line x1="164.3" x2="168.4" y1="183.3" y2="183.3" stroke="#505050" stroke-width="0.7"/>
<path d="M168.40,152.20 L168.40,152.20 L168.43,153.72 L168.46,155.92 L168.50,158.47 L168.56,161.06 L168.66,163.34 L168.80,165.00 L168.99,165.96 L169.23,166.47 L169.51,166.68 L169.80,166.74 L170.10,166.80 L170.40,167.00 L170.70,167.31 L171.00,167.61 L171.31,167.91 L171.63,168.22 L171.96,168.54 L172.30,168.90 L172.66,169.28 L173.04,169.69 L173.44,170.11 L173.82,170.56 L174.18,171.02 L174.50,171.50 L174.79,172.01 L175.07,172.55 L175.32,173.11 L175.53,173.67 L175.70,174.24 L175.80,174.80 L175.84,175.35 L175.83,175.90 L175.78,176.46 L175.67,177.01 L175.51,177.56 L175.30,178.10 L175.03,178.64 L174.69,179.17 L174.30,179.70 L173.88,180.23 L173.44,180.76 L173.00,181.30 L172.53,181.86 L172.02,182.44 L171.49,183.03 L170.97,183.60 L170.50,184.13 L170.10,184.60 L169.78,185.00 L169.51,185.36 L169.29,185.67 L169.11,185.96 L168.95,186.23 L168.80,186.50 L168.68,186.77 L168.59,187.03 L168.52,187.27 L168.47,187.49 L168.43,187.67 L168.40,187.80 L168.40,187.80 Z" fill="#e0e98a" stroke="#3c3c3c" stroke-width="0.55" stroke-linejoin="round"/>
<circle cx="168.4" cy="159.8" r="0.9" fill="#333"/>
<line x1="208" x2="266.6" y1="188.2" y2="188.2" stroke="#ebebeb" stroke-width="0.5"/>
<line x1="208" x2="266.6" y1="166.2" y2="166.2" stroke="#ebebeb" stroke-width="0.5"/>
<line x1="208" x2="266.6" y1="144.2" y2="144.2" stroke="#ebebeb" stroke-width="0.5"/>
<line x1="208" x2="266.6" y1="122.2" y2="122.2" stroke="#ebebeb" stroke-width="0.5"/>
<line x1="208" x2="266.6" y1="177.2" y2="177.2" stroke="#ebebeb" stroke-width="0.9"/>
<line x1="208" x2="266.6" y1="155.2" y2="155.2" stroke="#ebebeb" stroke-width="0.9"/>
<line x1="208" x2="266.6" y1="133.2" y2="133.2" stroke="#ebebeb" stroke-width="0.9"/>
<line x1="237.3" x2="237.3" y1="116.7" y2="193.8" stroke="#ebebeb" stroke-width="0.9"/>
<text x="205.7" y="181.8" text-anchor="end" font-size="11" fill="#4d4d4d">2.5</text>
<text x="205.7" y="159.8" text-anchor="end" font-size="11" fill="#4d4d4d">5.0</text>
<text x="205.7" y="137.8" text-anchor="end" font-size="11" fill="#4d4d4d">7.5</text>
<text x="237.3" y="113.7" text-anchor="middle" font-size="10.5" fill="#1a1a1a">right PP</text>
<rect x="220" y="162.7" width="8.2" height="11.4" fill="#1f78b4" stroke="#164a70" stroke-width="0.35"/>
<line x1="220" x2="228.2" y1="168.3" y2="168.3" stroke="#164a70" stroke-width="1.1"/>
<line x1="224.1" x2="228.2" y1="157.9" y2="157.9" stroke="#505050" stroke-width="0.7"/>
<line x1="224.1" x2="228.2" y1="175.9" y2="175.9" stroke="#505050" stroke-width="0.7"/>
<path d="M228.20,120.20 L228.20,120.20 L228.27,123.71 L228.37,128.81 L228.49,134.73 L228.62,140.71 L228.76,146.02 L228.90,149.90 L229.04,152.19 L229.19,153.47 L229.34,154.06 L229.51,154.31 L229.70,154.55 L229.90,155.10 L230.14,155.92 L230.40,156.73 L230.68,157.53 L230.97,158.31 L231.24,159.07 L231.50,159.80 L231.74,160.50 L231.97,161.16 L232.19,161.80 L232.40,162.43 L232.60,163.06 L232.80,163.70 L233.00,164.35 L233.19,165.00 L233.38,165.65 L233.55,166.30 L233.69,166.95 L233.80,167.60 L233.87,168.25 L233.92,168.90 L233.94,169.54 L233.93,170.19 L233.89,170.84 L233.80,171.50 L233.66,172.16 L233.48,172.83 L233.26,173.50 L233.01,174.17 L232.75,174.84 L232.50,175.50 L232.24,176.16 L231.96,176.81 L231.68,177.46 L231.38,178.10 L231.09,178.75 L230.80,179.40 L230.50,180.05 L230.19,180.71 L229.88,181.36 L229.59,182.01 L229.32,182.66 L229.10,183.30 L228.93,183.93 L228.81,184.56 L228.71,185.18 L228.64,185.80 L228.57,186.40 L228.50,187.00 L228.43,187.62 L228.37,188.28 L228.31,188.93 L228.27,189.53 L228.23,190.03 L228.20,190.40 L228.20,190.40 Z" fill="#86b8de" stroke="#3c3c3c" stroke-width="0.55" stroke-linejoin="round"/>
<circle cx="228.2" cy="135.3" r="0.9" fill="#333"/>
<rect x="238.2" y="163.1" width="8.2" height="9.1" fill="#c4d40e" stroke="#6b7400" stroke-width="0.35"/>
<line x1="238.2" x2="246.4" y1="165" y2="165" stroke="#6b7400" stroke-width="1.1"/>
<line x1="242.3" x2="246.4" y1="160.1" y2="160.1" stroke="#505050" stroke-width="0.7"/>
<line x1="242.3" x2="246.4" y1="176.1" y2="176.1" stroke="#505050" stroke-width="0.7"/>
<path d="M246.40,151.80 L246.40,151.80 L246.45,152.11 L246.51,152.56 L246.59,153.08 L246.70,153.62 L246.87,154.15 L247.10,154.60 L247.42,154.97 L247.80,155.30 L248.24,155.61 L248.72,155.92 L249.21,156.24 L249.70,156.60 L250.21,156.99 L250.74,157.40 L251.30,157.82 L251.86,158.27 L252.39,158.72 L252.90,159.20 L253.41,159.71 L253.94,160.27 L254.46,160.84 L254.91,161.40 L255.28,161.93 L255.50,162.40 L255.56,162.80 L255.49,163.13 L255.32,163.44 L255.09,163.73 L254.84,164.05 L254.60,164.40 L254.35,164.80 L254.06,165.22 L253.75,165.66 L253.44,166.11 L253.15,166.56 L252.90,167.00 L252.70,167.43 L252.52,167.84 L252.37,168.26 L252.23,168.69 L252.11,169.13 L252.00,169.60 L251.92,170.10 L251.88,170.62 L251.85,171.16 L251.81,171.70 L251.74,172.25 L251.60,172.80 L251.40,173.35 L251.15,173.92 L250.86,174.49 L250.55,175.05 L250.23,175.59 L249.90,176.10 L249.55,176.58 L249.16,177.04 L248.75,177.48 L248.36,177.90 L248.00,178.31 L247.70,178.70 L247.47,179.05 L247.29,179.37 L247.14,179.66 L247.01,179.97 L246.91,180.30 L246.80,180.70 L246.70,181.20 L246.61,181.80 L246.54,182.42 L246.49,183.03 L246.44,183.54 L246.40,183.90 L246.40,183.90 Z" fill="#e0e98a" stroke="#3c3c3c" stroke-width="0.55" stroke-linejoin="round"/>
<line x1="292.1" x2="350.7" y1="173.79" y2="173.79" stroke="#ebebeb" stroke-width="0.5"/>
<line x1="292.1" x2="350.7" y1="153.16" y2="153.16" stroke="#ebebeb" stroke-width="0.5"/>
<line x1="292.1" x2="350.7" y1="132.54" y2="132.54" stroke="#ebebeb" stroke-width="0.5"/>
<line x1="292.1" x2="350.7" y1="184.1" y2="184.1" stroke="#ebebeb" stroke-width="0.9"/>
<line x1="292.1" x2="350.7" y1="163.47" y2="163.47" stroke="#ebebeb" stroke-width="0.9"/>
<line x1="292.1" x2="350.7" y1="142.85" y2="142.85" stroke="#ebebeb" stroke-width="0.9"/>
<line x1="292.1" x2="350.7" y1="122.22" y2="122.22" stroke="#ebebeb" stroke-width="0.9"/>
<line x1="321.4" x2="321.4" y1="116.7" y2="193.8" stroke="#ebebeb" stroke-width="0.9"/>
<text x="289.8" y="188.7" text-anchor="end" font-size="11" fill="#4d4d4d">2.5</text>
<text x="289.8" y="168.07" text-anchor="end" font-size="11" fill="#4d4d4d">5.0</text>
<text x="289.8" y="147.45" text-anchor="end" font-size="11" fill="#4d4d4d">7.5</text>
<text x="289.8" y="126.82" text-anchor="end" font-size="11" fill="#4d4d4d">10.0</text>
<text x="321.4" y="113.7" text-anchor="middle" font-size="10.5" fill="#1a1a1a">right AP</text>
<rect x="304.1" y="153.1" width="8.2" height="17.8" fill="#1f78b4" stroke="#164a70" stroke-width="0.35"/>
<line x1="304.1" x2="312.3" y1="168.6" y2="168.6" stroke="#164a70" stroke-width="1.1"/>
<line x1="308.2" x2="312.3" y1="138.1" y2="138.1" stroke="#505050" stroke-width="0.7"/>
<line x1="308.2" x2="312.3" y1="172.2" y2="172.2" stroke="#505050" stroke-width="0.7"/>
<path d="M312.30,120.20 L312.30,120.20 L312.33,121.51 L312.37,123.39 L312.42,125.57 L312.48,127.84 L312.54,129.93 L312.60,131.60 L312.66,132.82 L312.72,133.79 L312.78,134.58 L312.85,135.29 L312.92,136.00 L313.00,136.80 L313.09,137.68 L313.18,138.56 L313.28,139.45 L313.39,140.34 L313.49,141.22 L313.60,142.10 L313.71,142.97 L313.83,143.84 L313.95,144.71 L314.07,145.57 L314.19,146.43 L314.30,147.30 L314.40,148.17 L314.48,149.05 L314.56,149.93 L314.65,150.80 L314.76,151.66 L314.90,152.50 L315.08,153.31 L315.28,154.09 L315.51,154.85 L315.74,155.61 L315.98,156.39 L316.20,157.20 L316.42,158.05 L316.64,158.94 L316.86,159.85 L317.08,160.74 L317.29,161.60 L317.50,162.40 L317.72,163.13 L317.95,163.80 L318.18,164.43 L318.38,165.05 L318.53,165.67 L318.60,166.30 L318.59,166.95 L318.50,167.60 L318.37,168.25 L318.20,168.90 L318.00,169.55 L317.80,170.20 L317.58,170.85 L317.33,171.50 L317.05,172.14 L316.76,172.79 L316.48,173.44 L316.20,174.10 L315.93,174.76 L315.66,175.43 L315.38,176.10 L315.11,176.77 L314.85,177.44 L314.60,178.10 L314.36,178.77 L314.12,179.46 L313.89,180.14 L313.68,180.80 L313.48,181.43 L313.30,182.00 L313.14,182.47 L313.01,182.84 L312.89,183.18 L312.78,183.54 L312.69,184.00 L312.60,184.60 L312.52,185.45 L312.46,186.51 L312.41,187.66 L312.36,188.78 L312.33,189.73 L312.30,190.40 L312.30,190.40 Z" fill="#86b8de" stroke="#3c3c3c" stroke-width="0.55" stroke-linejoin="round"/>
<rect x="322.3" y="157" width="8.2" height="7.8" fill="#c4d40e" stroke="#6b7400" stroke-width="0.35"/>
<line x1="322.3" x2="330.5" y1="162.2" y2="162.2" stroke="#6b7400" stroke-width="1.1"/>
<line x1="326.4" x2="330.5" y1="147.7" y2="147.7" stroke="#505050" stroke-width="0.7"/>
<line x1="326.4" x2="330.5" y1="170.2" y2="170.2" stroke="#505050" stroke-width="0.7"/>
<path d="M330.50,138.40 L330.50,138.40 L330.55,138.82 L330.61,139.40 L330.68,140.09 L330.77,140.81 L330.88,141.50 L331.00,142.10 L331.15,142.58 L331.31,143.00 L331.50,143.39 L331.70,143.78 L331.90,144.20 L332.10,144.70 L332.30,145.27 L332.50,145.90 L332.70,146.57 L332.91,147.25 L333.15,147.93 L333.40,148.60 L333.69,149.27 L334.00,149.95 L334.34,150.63 L334.67,151.30 L335.00,151.93 L335.30,152.50 L335.57,153.00 L335.81,153.43 L336.04,153.83 L336.28,154.22 L336.53,154.64 L336.80,155.10 L337.11,155.62 L337.46,156.18 L337.82,156.76 L338.18,157.34 L338.51,157.93 L338.80,158.50 L339.06,159.06 L339.32,159.61 L339.56,160.16 L339.74,160.71 L339.87,161.26 L339.90,161.80 L339.83,162.33 L339.69,162.85 L339.47,163.36 L339.20,163.89 L338.91,164.43 L338.60,165.00 L338.27,165.61 L337.90,166.25 L337.49,166.91 L337.07,167.57 L336.64,168.24 L336.20,168.90 L335.75,169.56 L335.27,170.22 L334.77,170.89 L334.29,171.54 L333.82,172.18 L333.40,172.80 L333.00,173.40 L332.62,173.99 L332.26,174.57 L331.93,175.12 L331.64,175.63 L331.40,176.10 L331.22,176.52 L331.09,176.89 L330.99,177.22 L330.93,177.53 L330.87,177.82 L330.80,178.10 L330.73,178.37 L330.67,178.63 L330.61,178.88 L330.57,179.09 L330.53,179.27 L330.50,179.40 L330.50,179.40 Z" fill="#e0e98a" stroke="#3c3c3c" stroke-width="0.55" stroke-linejoin="round"/>
<line x1="45.7" x2="104.3" y1="287.8" y2="287.8" stroke="#ebebeb" stroke-width="0.5"/>
<line x1="45.7" x2="104.3" y1="267.4" y2="267.4" stroke="#ebebeb" stroke-width="0.5"/>
<line x1="45.7" x2="104.3" y1="247" y2="247" stroke="#ebebeb" stroke-width="0.5"/>
<line x1="45.7" x2="104.3" y1="226.6" y2="226.6" stroke="#ebebeb" stroke-width="0.5"/>
<line x1="45.7" x2="104.3" y1="277.6" y2="277.6" stroke="#ebebeb" stroke-width="0.9"/>
<line x1="45.7" x2="104.3" y1="257.2" y2="257.2" stroke="#ebebeb" stroke-width="0.9"/>
<line x1="45.7" x2="104.3" y1="236.8" y2="236.8" stroke="#ebebeb" stroke-width="0.9"/>
<line x1="45.7" x2="104.3" y1="216.4" y2="216.4" stroke="#ebebeb" stroke-width="0.9"/>
<line x1="75" x2="75" y1="211.5" y2="288.6" stroke="#ebebeb" stroke-width="0.9"/>
<text x="43.4" y="282.2" text-anchor="end" font-size="11" fill="#4d4d4d">2.5</text>
<text x="43.4" y="261.8" text-anchor="end" font-size="11" fill="#4d4d4d">5.0</text>
<text x="43.4" y="241.4" text-anchor="end" font-size="11" fill="#4d4d4d">7.5</text>
<text x="43.4" y="221" text-anchor="end" font-size="11" fill="#4d4d4d">10.0</text>
<text x="75" y="208.5" text-anchor="middle" font-size="10.5" fill="#1a1a1a">left PP</text>
<rect x="57.7" y="246.4" width="8.2" height="13.1" fill="#1f78b4" stroke="#164a70" stroke-width="0.35"/>
<line x1="57.7" x2="65.9" y1="251.3" y2="251.3" stroke="#164a70" stroke-width="1.1"/>
<line x1="61.8" x2="65.9" y1="230.3" y2="230.3" stroke="#505050" stroke-width="0.7"/>
<line x1="61.8" x2="65.9" y1="270.4" y2="270.4" stroke="#505050" stroke-width="0.7"/>
<path d="M65.90,215.20 L65.90,215.20 L65.94,216.20 L66.00,217.61 L66.07,219.27 L66.14,221.01 L66.22,222.64 L66.30,224.00 L66.37,225.07 L66.45,226.00 L66.53,226.82 L66.61,227.59 L66.70,228.37 L66.80,229.20 L66.91,230.08 L67.03,230.96 L67.15,231.85 L67.29,232.74 L67.43,233.62 L67.60,234.50 L67.79,235.39 L68.00,236.29 L68.22,237.19 L68.45,238.07 L68.68,238.91 L68.90,239.70 L69.12,240.43 L69.33,241.10 L69.55,241.73 L69.77,242.35 L69.98,242.97 L70.20,243.60 L70.43,244.26 L70.66,244.94 L70.90,245.62 L71.13,246.28 L71.33,246.91 L71.50,247.50 L71.65,248.01 L71.78,248.46 L71.89,248.88 L71.97,249.30 L72.01,249.77 L72.00,250.30 L71.93,250.92 L71.80,251.61 L71.64,252.33 L71.45,253.07 L71.27,253.80 L71.10,254.50 L70.95,255.17 L70.80,255.82 L70.64,256.47 L70.49,257.11 L70.34,257.75 L70.20,258.40 L70.06,259.05 L69.93,259.70 L69.80,260.35 L69.67,261.00 L69.54,261.65 L69.40,262.30 L69.26,262.95 L69.11,263.60 L68.96,264.25 L68.80,264.90 L68.65,265.55 L68.50,266.20 L68.35,266.85 L68.20,267.50 L68.04,268.14 L67.89,268.79 L67.74,269.44 L67.60,270.10 L67.46,270.76 L67.31,271.43 L67.18,272.10 L67.04,272.77 L66.91,273.44 L66.80,274.10 L66.70,274.71 L66.61,275.26 L66.53,275.81 L66.45,276.41 L66.37,277.13 L66.30,278.00 L66.22,279.16 L66.14,280.60 L66.07,282.14 L66.00,283.63 L65.94,284.91 L65.90,285.80 L65.90,285.80 Z" fill="#86b8de" stroke="#3c3c3c" stroke-width="0.55" stroke-linejoin="round"/>
<rect x="75.9" y="245.1" width="8.2" height="8.8" fill="#c4d40e" stroke="#6b7400" stroke-width="0.35"/>
<line x1="75.9" x2="84.1" y1="250" y2="250" stroke="#6b7400" stroke-width="1.1"/>
<line x1="80" x2="84.1" y1="242.9" y2="242.9" stroke="#505050" stroke-width="0.7"/>
<line x1="80" x2="84.1" y1="260.6" y2="260.6" stroke="#505050" stroke-width="0.7"/>
<path d="M84.10,234.20 L84.10,234.20 L84.19,234.53 L84.30,234.99 L84.44,235.53 L84.61,236.10 L84.79,236.64 L85.00,237.10 L85.23,237.47 L85.49,237.78 L85.77,238.07 L86.07,238.35 L86.38,238.65 L86.70,239.00 L87.04,239.38 L87.39,239.79 L87.76,240.21 L88.13,240.66 L88.52,241.12 L88.90,241.60 L89.30,242.11 L89.72,242.65 L90.14,243.21 L90.56,243.78 L90.95,244.35 L91.30,244.90 L91.61,245.45 L91.91,246.02 L92.17,246.58 L92.41,247.13 L92.62,247.64 L92.80,248.10 L92.96,248.49 L93.10,248.81 L93.21,249.11 L93.28,249.40 L93.28,249.72 L93.20,250.10 L93.01,250.56 L92.71,251.07 L92.34,251.61 L91.96,252.16 L91.60,252.70 L91.30,253.20 L91.07,253.66 L90.88,254.10 L90.71,254.53 L90.55,254.95 L90.39,255.37 L90.20,255.80 L90.00,256.23 L89.79,256.67 L89.57,257.10 L89.36,257.53 L89.13,257.97 L88.90,258.40 L88.67,258.83 L88.43,259.27 L88.19,259.70 L87.94,260.13 L87.68,260.57 L87.40,261.00 L87.08,261.44 L86.73,261.89 L86.36,262.34 L86.00,262.78 L85.68,263.20 L85.40,263.60 L85.18,263.95 L85.00,264.24 L84.85,264.52 L84.72,264.81 L84.61,265.16 L84.50,265.60 L84.40,266.19 L84.31,266.90 L84.24,267.68 L84.19,268.42 L84.14,269.05 L84.10,269.50 L84.10,269.50 Z" fill="#e0e98a" stroke="#3c3c3c" stroke-width="0.55" stroke-linejoin="round"/>
<line x1="130" x2="188.6" y1="272.32" y2="272.32" stroke="#ebebeb" stroke-width="0.5"/>
<line x1="130" x2="188.6" y1="255.98" y2="255.98" stroke="#ebebeb" stroke-width="0.5"/>
<line x1="130" x2="188.6" y1="239.62" y2="239.62" stroke="#ebebeb" stroke-width="0.5"/>
<line x1="130" x2="188.6" y1="223.28" y2="223.28" stroke="#ebebeb" stroke-width="0.5"/>
<line x1="130" x2="188.6" y1="280.5" y2="280.5" stroke="#ebebeb" stroke-width="0.9"/>
<line x1="130" x2="188.6" y1="264.15" y2="264.15" stroke="#ebebeb" stroke-width="0.9"/>
<line x1="130" x2="188.6" y1="247.8" y2="247.8" stroke="#ebebeb" stroke-width="0.9"/>
<line x1="130" x2="188.6" y1="231.45" y2="231.45" stroke="#ebebeb" stroke-width="0.9"/>
<line x1="130" x2="188.6" y1="215.1" y2="215.1" stroke="#ebebeb" stroke-width="0.9"/>
<line x1="159.3" x2="159.3" y1="211.5" y2="288.6" stroke="#ebebeb" stroke-width="0.9"/>
<text x="127.7" y="285.1" text-anchor="end" font-size="11" fill="#4d4d4d">2.5</text>
<text x="127.7" y="268.75" text-anchor="end" font-size="11" fill="#4d4d4d">5.0</text>
<text x="127.7" y="252.4" text-anchor="end" font-size="11" fill="#4d4d4d">7.5</text>
<text x="127.7" y="236.05" text-anchor="end" font-size="11" fill="#4d4d4d">10.0</text>
<text x="127.7" y="219.7" text-anchor="end" font-size="11" fill="#4d4d4d">12.5</text>
<text x="159.3" y="208.5" text-anchor="middle" font-size="10.5" fill="#1a1a1a">left AP</text>
<rect x="142" y="245.9" width="8.2" height="15.1" fill="#1f78b4" stroke="#164a70" stroke-width="0.35"/>
<line x1="142" x2="150.2" y1="253.5" y2="253.5" stroke="#164a70" stroke-width="1.1"/>
<line x1="146.1" x2="150.2" y1="232.1" y2="232.1" stroke="#505050" stroke-width="0.7"/>
<line x1="146.1" x2="150.2" y1="268.5" y2="268.5" stroke="#505050" stroke-width="0.7"/>
<path d="M150.20,215.20 L150.20,215.20 L150.25,216.20 L150.32,217.61 L150.40,219.27 L150.49,221.01 L150.59,222.64 L150.70,224.00 L150.81,225.07 L150.94,226.00 L151.08,226.82 L151.21,227.59 L151.36,228.37 L151.50,229.20 L151.64,230.08 L151.78,230.96 L151.92,231.85 L152.07,232.74 L152.23,233.62 L152.40,234.50 L152.59,235.37 L152.79,236.24 L153.00,237.11 L153.22,237.97 L153.46,238.83 L153.70,239.70 L153.97,240.58 L154.27,241.48 L154.58,242.38 L154.88,243.26 L155.16,244.11 L155.40,244.90 L155.60,245.63 L155.78,246.33 L155.93,246.98 L156.07,247.61 L156.19,248.21 L156.30,248.80 L156.40,249.35 L156.50,249.86 L156.58,250.35 L156.64,250.84 L156.69,251.35 L156.70,251.90 L156.69,252.50 L156.64,253.14 L156.58,253.80 L156.50,254.47 L156.40,255.14 L156.30,255.80 L156.18,256.45 L156.04,257.10 L155.89,257.75 L155.73,258.40 L155.56,259.05 L155.40,259.70 L155.24,260.35 L155.08,261.00 L154.91,261.65 L154.74,262.30 L154.57,262.95 L154.40,263.60 L154.22,264.25 L154.03,264.90 L153.84,265.54 L153.66,266.19 L153.47,266.84 L153.30,267.50 L153.14,268.16 L152.99,268.83 L152.84,269.50 L152.69,270.17 L152.55,270.84 L152.40,271.50 L152.25,272.16 L152.10,272.81 L151.94,273.46 L151.79,274.10 L151.64,274.75 L151.50,275.40 L151.36,276.02 L151.21,276.60 L151.08,277.19 L150.94,277.81 L150.81,278.50 L150.70,279.30 L150.59,280.31 L150.49,281.51 L150.40,282.79 L150.32,284.02 L150.25,285.06 L150.20,285.80 L150.20,285.80 Z" fill="#86b8de" stroke="#3c3c3c" stroke-width="0.55" stroke-linejoin="round"/>
<rect x="160.2" y="242.3" width="8.2" height="8.6" fill="#c4d40e" stroke="#6b7400" stroke-width="0.35"/>
<line x1="160.2" x2="168.4" y1="246.8" y2="246.8" stroke="#6b7400" stroke-width="1.1"/>
<line x1="164.3" x2="168.4" y1="228.6" y2="228.6" stroke="#505050" stroke-width="0.7"/>
<line x1="164.3" x2="168.4" y1="261" y2="261" stroke="#505050" stroke-width="0.7"/>
<path d="M168.40,218.20 L168.40,218.20 L168.42,218.71 L168.45,219.44 L168.49,220.29 L168.54,221.17 L168.61,222.01 L168.70,222.70 L168.82,223.23 L168.97,223.66 L169.14,224.04 L169.32,224.41 L169.51,224.81 L169.70,225.30 L169.90,225.87 L170.13,226.50 L170.36,227.17 L170.59,227.85 L170.80,228.53 L171.00,229.20 L171.17,229.85 L171.31,230.50 L171.45,231.14 L171.59,231.79 L171.73,232.44 L171.90,233.10 L172.09,233.76 L172.29,234.43 L172.50,235.10 L172.72,235.77 L172.96,236.44 L173.20,237.10 L173.46,237.76 L173.74,238.41 L174.03,239.06 L174.33,239.70 L174.62,240.35 L174.90,241.00 L175.17,241.66 L175.44,242.33 L175.71,243.00 L175.98,243.66 L176.24,244.30 L176.50,244.90 L176.78,245.47 L177.10,246.01 L177.41,246.53 L177.68,247.03 L177.89,247.52 L178.00,248.00 L178.01,248.46 L177.94,248.90 L177.81,249.33 L177.61,249.75 L177.38,250.17 L177.10,250.60 L176.76,251.04 L176.34,251.49 L175.88,251.94 L175.40,252.38 L174.93,252.80 L174.50,253.20 L174.10,253.55 L173.69,253.87 L173.30,254.16 L172.93,254.47 L172.59,254.80 L172.30,255.20 L172.06,255.66 L171.85,256.15 L171.68,256.68 L171.54,257.24 L171.41,257.81 L171.30,258.40 L171.22,259.01 L171.19,259.65 L171.17,260.31 L171.15,260.97 L171.10,261.64 L171.00,262.30 L170.84,262.95 L170.62,263.60 L170.38,264.25 L170.13,264.90 L169.90,265.55 L169.70,266.20 L169.53,266.81 L169.39,267.36 L169.25,267.92 L169.13,268.53 L169.01,269.24 L168.90,270.10 L168.79,271.24 L168.69,272.64 L168.60,274.14 L168.52,275.59 L168.45,276.83 L168.40,277.70 L168.40,277.70 Z" fill="#e0e98a" stroke="#3c3c3c" stroke-width="0.55" stroke-linejoin="round"/>
<circle cx="168.4" cy="267.3" r="0.9" fill="#333"/>
<line x1="208" x2="266.6" y1="286.85" y2="286.85" stroke="#ebebeb" stroke-width="0.5"/>
<line x1="208" x2="266.6" y1="262.15" y2="262.15" stroke="#ebebeb" stroke-width="0.5"/>
<line x1="208" x2="266.6" y1="237.45" y2="237.45" stroke="#ebebeb" stroke-width="0.5"/>
<line x1="208" x2="266.6" y1="212.75" y2="212.75" stroke="#ebebeb" stroke-width="0.5"/>
<line x1="208" x2="266.6" y1="274.5" y2="274.5" stroke="#ebebeb" stroke-width="0.9"/>
<line x1="208" x2="266.6" y1="249.8" y2="249.8" stroke="#ebebeb" stroke-width="0.9"/>
<line x1="208" x2="266.6" y1="225.1" y2="225.1" stroke="#ebebeb" stroke-width="0.9"/>
<line x1="237.3" x2="237.3" y1="211.5" y2="288.6" stroke="#ebebeb" stroke-width="0.9"/>
<text x="205.7" y="279.1" text-anchor="end" font-size="11" fill="#4d4d4d">5</text>
<text x="205.7" y="254.4" text-anchor="end" font-size="11" fill="#4d4d4d">10</text>
<text x="205.7" y="229.7" text-anchor="end" font-size="11" fill="#4d4d4d">15</text>
<text x="237.3" y="208.5" text-anchor="middle" font-size="10.5" fill="#1a1a1a">left SN</text>
<rect x="220" y="255.2" width="8.2" height="9.7" fill="#1f78b4" stroke="#164a70" stroke-width="0.35"/>
<line x1="220" x2="228.2" y1="259.1" y2="259.1" stroke="#164a70" stroke-width="1.1"/>
<line x1="224.1" x2="228.2" y1="245.1" y2="245.1" stroke="#505050" stroke-width="0.7"/>
<line x1="224.1" x2="228.2" y1="273.4" y2="273.4" stroke="#505050" stroke-width="0.7"/>
<path d="M228.20,215.20 L228.20,215.20 L228.25,215.57 L228.32,216.07 L228.40,216.68 L228.49,217.35 L228.59,218.07 L228.70,218.80 L228.83,219.60 L228.99,220.49 L229.16,221.42 L229.31,222.35 L229.43,223.22 L229.50,224.00 L229.50,224.65 L229.46,225.20 L229.38,225.69 L229.28,226.18 L229.18,226.70 L229.10,227.30 L229.02,227.97 L228.94,228.68 L228.85,229.43 L228.77,230.20 L228.72,230.99 L228.70,231.80 L228.71,232.65 L228.76,233.56 L228.82,234.49 L228.90,235.41 L229.00,236.29 L229.10,237.10 L229.22,237.83 L229.37,238.50 L229.53,239.14 L229.69,239.75 L229.85,240.37 L230.00,241.00 L230.14,241.66 L230.29,242.33 L230.44,243.00 L230.57,243.66 L230.70,244.30 L230.80,244.90 L230.86,245.45 L230.88,245.96 L230.88,246.45 L230.90,246.94 L230.96,247.45 L231.10,248.00 L231.33,248.60 L231.62,249.24 L231.96,249.90 L232.32,250.57 L232.68,251.24 L233.00,251.90 L233.31,252.56 L233.63,253.22 L233.94,253.89 L234.23,254.54 L234.49,255.18 L234.70,255.80 L234.87,256.39 L235.01,256.95 L235.11,257.49 L235.18,258.03 L235.21,258.56 L235.20,259.10 L235.14,259.63 L235.03,260.15 L234.89,260.66 L234.71,261.19 L234.51,261.73 L234.30,262.30 L234.06,262.91 L233.79,263.55 L233.49,264.21 L233.18,264.87 L232.88,265.54 L232.60,266.20 L232.34,266.85 L232.08,267.50 L231.83,268.14 L231.58,268.79 L231.34,269.44 L231.10,270.10 L230.87,270.76 L230.64,271.43 L230.43,272.10 L230.21,272.77 L230.00,273.44 L229.80,274.10 L229.60,274.71 L229.40,275.26 L229.20,275.81 L229.01,276.41 L228.85,277.13 L228.70,278.00 L228.58,279.16 L228.47,280.60 L228.38,282.14 L228.31,283.63 L228.25,284.91 L228.20,285.80 L228.20,285.80 Z" fill="#86b8de" stroke="#3c3c3c" stroke-width="0.55" stroke-linejoin="round"/>
<circle cx="228.2" cy="226.9" r="0.9" fill="#333"/>
<rect x="238.2" y="250" width="8.2" height="8.4" fill="#c4d40e" stroke="#6b7400" stroke-width="0.35"/>
<line x1="238.2" x2="246.4" y1="254.1" y2="254.1" stroke="#6b7400" stroke-width="1.1"/>
<line x1="242.3" x2="246.4" y1="242.5" y2="242.5" stroke="#505050" stroke-width="0.7"/>
<line x1="242.3" x2="246.4" y1="263.9" y2="263.9" stroke="#505050" stroke-width="0.7"/>
<path d="M246.40,233.40 L246.40,233.40 L246.45,233.82 L246.50,234.43 L246.57,235.13 L246.66,235.86 L246.76,236.54 L246.90,237.10 L247.07,237.50 L247.26,237.81 L247.47,238.07 L247.71,238.33 L247.95,238.62 L248.20,239.00 L248.46,239.47 L248.74,240.00 L249.03,240.57 L249.32,241.16 L249.61,241.74 L249.90,242.30 L250.19,242.84 L250.48,243.37 L250.77,243.90 L251.06,244.43 L251.33,244.96 L251.60,245.50 L251.86,246.06 L252.11,246.65 L252.36,247.24 L252.59,247.81 L252.80,248.34 L253.00,248.80 L253.16,249.17 L253.29,249.46 L253.41,249.70 L253.52,249.94 L253.64,250.23 L253.80,250.60 L254.01,251.07 L254.26,251.61 L254.53,252.20 L254.77,252.80 L254.98,253.37 L255.10,253.90 L255.15,254.37 L255.14,254.80 L255.09,255.21 L255.00,255.61 L254.87,256.04 L254.70,256.50 L254.49,257.00 L254.23,257.52 L253.94,258.06 L253.61,258.60 L253.26,259.15 L252.90,259.70 L252.51,260.25 L252.09,260.80 L251.65,261.35 L251.20,261.90 L250.74,262.45 L250.30,263.00 L249.85,263.55 L249.37,264.10 L248.90,264.64 L248.45,265.18 L248.04,265.70 L247.70,266.20 L247.43,266.64 L247.22,267.04 L247.06,267.41 L246.92,267.81 L246.81,268.26 L246.70,268.80 L246.61,269.50 L246.54,270.36 L246.49,271.26 L246.45,272.13 L246.42,272.88 L246.40,273.40 L246.40,273.40 Z" fill="#e0e98a" stroke="#3c3c3c" stroke-width="0.55" stroke-linejoin="round"/>
<line x1="292.1" x2="350.7" y1="284.82" y2="284.82" stroke="#ebebeb" stroke-width="0.5"/>
<line x1="292.1" x2="350.7" y1="263.88" y2="263.88" stroke="#ebebeb" stroke-width="0.5"/>
<line x1="292.1" x2="350.7" y1="242.93" y2="242.93" stroke="#ebebeb" stroke-width="0.5"/>
<line x1="292.1" x2="350.7" y1="221.97" y2="221.97" stroke="#ebebeb" stroke-width="0.5"/>
<line x1="292.1" x2="350.7" y1="274.35" y2="274.35" stroke="#ebebeb" stroke-width="0.9"/>
<line x1="292.1" x2="350.7" y1="253.4" y2="253.4" stroke="#ebebeb" stroke-width="0.9"/>
<line x1="292.1" x2="350.7" y1="232.45" y2="232.45" stroke="#ebebeb" stroke-width="0.9"/>
<line x1="321.4" x2="321.4" y1="211.5" y2="288.6" stroke="#ebebeb" stroke-width="0.9"/>
<text x="289.8" y="278.95" text-anchor="end" font-size="11" fill="#4d4d4d">5</text>
<text x="289.8" y="258" text-anchor="end" font-size="11" fill="#4d4d4d">10</text>
<text x="289.8" y="237.05" text-anchor="end" font-size="11" fill="#4d4d4d">15</text>
<text x="321.4" y="208.5" text-anchor="middle" font-size="10.5" fill="#1a1a1a">right SN</text>
<rect x="304.1" y="253.9" width="8.2" height="11.7" fill="#1f78b4" stroke="#164a70" stroke-width="0.35"/>
<line x1="304.1" x2="312.3" y1="257.1" y2="257.1" stroke="#164a70" stroke-width="1.1"/>
<line x1="308.2" x2="312.3" y1="251.3" y2="251.3" stroke="#505050" stroke-width="0.7"/>
<line x1="308.2" x2="312.3" y1="272.1" y2="272.1" stroke="#505050" stroke-width="0.7"/>
<path d="M312.30,215.20 L312.30,215.20 L312.40,216.21 L312.55,217.65 L312.72,219.33 L312.90,221.07 L313.07,222.69 L313.20,224.00 L313.31,224.97 L313.41,225.75 L313.51,226.40 L313.57,227.00 L313.61,227.61 L313.60,228.30 L313.53,229.04 L313.40,229.75 L313.24,230.48 L313.07,231.25 L312.91,232.11 L312.80,233.10 L312.72,234.28 L312.66,235.65 L312.61,237.11 L312.58,238.55 L312.57,239.88 L312.60,241.00 L312.65,241.89 L312.73,242.62 L312.84,243.24 L312.97,243.80 L313.12,244.34 L313.30,244.90 L313.52,245.48 L313.77,246.04 L314.06,246.59 L314.35,247.11 L314.63,247.62 L314.90,248.10 L315.14,248.55 L315.36,248.96 L315.58,249.34 L315.80,249.73 L316.04,250.15 L316.30,250.60 L316.61,251.10 L316.95,251.64 L317.31,252.21 L317.66,252.78 L317.96,253.35 L318.20,253.90 L318.37,254.43 L318.50,254.95 L318.59,255.46 L318.63,255.99 L318.64,256.53 L318.60,257.10 L318.51,257.71 L318.36,258.35 L318.17,259.01 L317.96,259.67 L317.73,260.34 L317.50,261.00 L317.26,261.65 L316.99,262.30 L316.71,262.95 L316.43,263.60 L316.16,264.25 L315.90,264.90 L315.66,265.55 L315.43,266.20 L315.21,266.84 L315.00,267.49 L314.80,268.14 L314.60,268.80 L314.41,269.46 L314.24,270.13 L314.07,270.80 L313.91,271.47 L313.75,272.14 L313.60,272.80 L313.45,273.40 L313.31,273.91 L313.17,274.43 L313.04,275.02 L312.91,275.75 L312.80,276.70 L312.69,278.02 L312.59,279.69 L312.50,281.49 L312.42,283.25 L312.35,284.75 L312.30,285.80 L312.30,285.80 Z" fill="#86b8de" stroke="#3c3c3c" stroke-width="0.55" stroke-linejoin="round"/>
<circle cx="312.3" cy="228.3" r="0.9" fill="#333"/>
<rect x="322.3" y="253.2" width="8.2" height="6.3" fill="#c4d40e" stroke="#6b7400" stroke-width="0.35"/>
<line x1="322.3" x2="330.5" y1="256.1" y2="256.1" stroke="#6b7400" stroke-width="1.1"/>
<line x1="326.4" x2="330.5" y1="243.6" y2="243.6" stroke="#505050" stroke-width="0.7"/>
<line x1="326.4" x2="330.5" y1="263.4" y2="263.4" stroke="#505050" stroke-width="0.7"/>
<path d="M330.50,236.40 L330.50,236.40 L330.60,236.92 L330.73,237.64 L330.89,238.50 L331.07,239.40 L331.24,240.26 L331.40,241.00 L331.54,241.61 L331.67,242.17 L331.80,242.68 L331.94,243.18 L332.10,243.68 L332.30,244.20 L332.54,244.75 L332.82,245.32 L333.12,245.89 L333.43,246.45 L333.73,246.99 L334.00,247.50 L334.22,247.96 L334.39,248.37 L334.55,248.77 L334.73,249.17 L334.97,249.61 L335.30,250.10 L335.77,250.68 L336.35,251.32 L336.99,252.00 L337.63,252.68 L338.18,253.32 L338.60,253.90 L338.88,254.40 L339.09,254.83 L339.21,255.24 L339.27,255.63 L339.26,256.05 L339.20,256.50 L339.06,257.00 L338.84,257.52 L338.55,258.06 L338.22,258.60 L337.86,259.15 L337.50,259.70 L337.12,260.25 L336.70,260.80 L336.26,261.35 L335.80,261.90 L335.34,262.45 L334.90,263.00 L334.45,263.55 L333.99,264.10 L333.52,264.64 L333.07,265.18 L332.66,265.70 L332.30,266.20 L332.00,266.67 L331.73,267.11 L331.50,267.53 L331.30,267.95 L331.14,268.37 L331.00,268.80 L330.90,269.19 L330.86,269.50 L330.84,269.82 L330.83,270.22 L330.83,270.75 L330.80,271.50 L330.75,272.60 L330.70,274.01 L330.64,275.57 L330.58,277.09 L330.53,278.39 L330.50,279.30 L330.50,279.30 Z" fill="#e0e98a" stroke="#3c3c3c" stroke-width="0.55" stroke-linejoin="round"/>
<circle cx="330.5" cy="271.7" r="0.9" fill="#333"/>
<path d="M234.9,33.6 L234.90,31.10 M234.9,33.6 L237.28,32.83 M234.9,33.6 L236.37,35.62 M234.9,33.6 L233.43,35.62 M234.9,33.6 L232.52,32.83" stroke="#2c3f62" stroke-width="1.25" stroke-linecap="round" fill="none"/>
<text x="3.9" y="17.2" font-size="16.3" fill="#3d4c6c">a</text>
<text x="385.3" y="18.3" font-size="16" fill="#3d4c6c">b</text>
<text transform="translate(17.8,155.3) rotate(-90)" text-anchor="middle" font-size="13.2" fill="#000">VC</text>
<text x="198.2" y="301" text-anchor="middle" font-size="13.2" fill="#000">Region</text>
<line x1="361.2" x2="361.2" y1="146.2" y2="154.6" stroke="#555" stroke-width="0.6"/>
<rect x="358.2" y="147.8" width="5.9" height="5.2" fill="#1f78b4" stroke="#164a70" stroke-width="0.3"/>
<line x1="358.2" x2="364.1" y1="149.65" y2="149.65" stroke="#164a70" stroke-width="0.75" opacity="1"/>
<line x1="358.2" x2="364.1" y1="151.15" y2="151.15" stroke="#164a70" stroke-width="0.75" opacity="1"/>
<text x="367.9" y="154.1" font-size="10.2" fill="#222">HC</text>
<line x1="361.2" x2="361.2" y1="156.3" y2="164.7" stroke="#555" stroke-width="0.6"/>
<rect x="358.2" y="157.9" width="5.9" height="5.2" fill="#c4d40e" stroke="#6b7400" stroke-width="0.3"/>
<line x1="358.2" x2="364.1" y1="159.75" y2="159.75" stroke="#6b7400" stroke-width="0.75" opacity="1"/>
<line x1="358.2" x2="364.1" y1="161.25" y2="161.25" stroke="#6b7400" stroke-width="0.75" opacity="1"/>
<text x="367.9" y="164.2" font-size="10.2" fill="#222">PD</text>
<text x="447" y="98.3" font-size="11" fill="#3d4c6c">L</text>
<defs>
<filter id="embT" x="0" y="0" width="100%" height="100%" color-interpolation-filters="sRGB"><feTurbulence type="fractalNoise" baseFrequency="0.21 0.15" numOctaves="1" seed="5" result="t"/><feComponentTransfer in="t" result="b"><feFuncR type="table" tableValues="0 0 0.3 0.9 1 1"/></feComponentTransfer><feColorMatrix in="b" type="matrix" values="0 0 0 0 0  0 0 0 0 0  0 0 0 0 0  1 0 0 0 0" result="h"/><feGaussianBlur in="h" stdDeviation="0.7" result="hb"/><feDiffuseLighting in="hb" surfaceScale="2.2" diffuseConstant="1.1" lighting-color="#c8c6d0" result="l"><feDistantLight azimuth="235" elevation="45"/></feDiffuseLighting><feSpecularLighting in="hb" surfaceScale="2.2" specularConstant="0.8" specularExponent="10" lighting-color="#ffffff" result="s"><feDistantLight azimuth="235" elevation="55"/></feSpecularLighting><feComposite in="s" in2="s" operator="arithmetic" k1="0" k2="1" k3="0" k4="0" result="s2"/><feFlood flood-color="#76727e" result="f"/><feComposite in="l" in2="f" operator="arithmetic" k1="0" k2="0.55" k3="0.52" k4="0" result="c1"/><feComposite in="s2" in2="c1" operator="arithmetic" k1="0" k2="0.35" k3="1" k4="0"/></filter>
<filter id="embS" x="0" y="0" width="100%" height="100%" color-interpolation-filters="sRGB"><feTurbulence type="fractalNoise" baseFrequency="0.075 0.075" numOctaves="2" seed="21" result="t"/><feComponentTransfer in="t" result="b"><feFuncR type="table" tableValues="0 0.85 1 0.85 0 0.85 1 0.85 0 0.85 1 0.85 0 0.85 1 0.85 0"/></feComponentTransfer><feColorMatrix in="b" type="matrix" values="0 0 0 0 0  0 0 0 0 0  0 0 0 0 0  1 0 0 0 0" result="h"/><feGaussianBlur in="h" stdDeviation="0.45" result="hb"/><feDiffuseLighting in="hb" surfaceScale="1.8" diffuseConstant="1.15" lighting-color="#dadada" result="l"><feDistantLight azimuth="235" elevation="45"/></feDiffuseLighting><feFlood flood-color="#858585" result="f"/><feComposite in="l" in2="f" operator="arithmetic" k1="0" k2="0.72" k3="0.4" k4="0"/></filter>
<filter id="embC" x="0" y="0" width="100%" height="100%" color-interpolation-filters="sRGB"><feTurbulence type="turbulence" baseFrequency="0.3 0.08" numOctaves="1" seed="3" result="t"/><feColorMatrix in="t" type="matrix" values="0 0 0 0 0  0 0 0 0 0  0 0 0 0 0  -2.0 0 0 0 1.1" result="h"/><feDiffuseLighting in="h" surfaceScale="1.5" diffuseConstant="1.0" lighting-color="#c8c8c8" result="l"><feDistantLight azimuth="225" elevation="55"/></feDiffuseLighting><feFlood flood-color="#888" result="f"/><feComposite in="l" in2="f" operator="arithmetic" k1="0" k2="0.75" k3="0.3" k4="0"/></filter>
<filter id="bl05"><feGaussianBlur stdDeviation="0.5"/></filter>
<filter id="bl1" x="-30%" y="-30%" width="160%" height="160%"><feGaussianBlur stdDeviation="1.1"/></filter>
<filter id="bl2" x="-50%" y="-50%" width="200%" height="200%"><feGaussianBlur stdDeviation="2.5"/></filter>
<filter id="bl3" x="-50%" y="-50%" width="200%" height="200%"><feGaussianBlur stdDeviation="4.5"/></filter>
<clipPath id="ctop"><path d="M494.0,14.8 C496.0,14.8 497.7,12.9 500.0,12.8 C502.3,12.7 505.4,12.4 508.0,14.2 C510.6,16.0 513.2,20.6 515.5,23.5 C517.8,26.4 519.8,28.6 521.5,31.5 C523.2,34.4 524.5,36.8 526.0,41.0 C527.5,45.2 529.3,52.1 530.2,56.9 C531.1,61.7 531.5,66.2 531.4,70.0 C531.3,73.8 530.4,76.7 529.5,80.0 C528.6,83.3 528.0,86.3 526.2,89.6 C524.4,92.8 521.2,97.0 518.5,99.5 C515.8,102.0 512.8,103.5 510.0,104.8 C507.2,106.1 503.9,107.3 501.5,107.3 C499.1,107.3 497.5,105.0 495.4,105.0 C493.3,105.0 491.6,107.6 489.0,107.6 C486.4,107.6 483.0,106.2 480.0,104.8 C477.0,103.4 473.8,101.5 471.0,99.0 C468.2,96.5 465.1,93.1 463.0,90.0 C460.9,86.9 459.3,83.7 458.3,80.4 C457.3,77.1 457.1,73.9 456.9,70.0 C456.7,66.1 456.4,61.7 457.2,56.9 C458.0,52.1 460.1,45.2 461.6,41.0 C463.1,36.8 464.3,34.4 466.2,31.5 C468.1,28.6 470.5,26.4 472.8,23.5 C475.1,20.6 477.5,16.0 480.0,14.2 C482.5,12.4 485.7,12.7 488.0,12.8 C490.3,12.9 492.0,14.8 494.0,14.8 Z"/></clipPath>
<clipPath id="csag"><path d="M536.5,66.5 C536.5,64.4 537.0,60.7 538.0,58.2 C539.0,55.7 540.8,53.4 542.7,51.3 C544.6,49.2 547.5,47.3 549.6,45.7 C551.7,44.1 553.9,42.7 555.5,41.5 C557.1,40.3 558.2,39.5 559.5,38.3 C560.8,37.1 561.0,35.4 563.0,34.2 C565.0,33.0 568.4,31.7 571.7,31.0 C575.0,30.3 579.3,30.0 582.8,30.2 C586.3,30.4 589.3,31.4 592.5,32.4 C595.7,33.4 598.8,34.5 602.2,36.0 C605.7,37.5 610.0,39.5 613.2,41.6 C616.4,43.7 619.0,45.7 621.5,48.5 C624.0,51.3 626.6,54.7 628.4,58.2 C630.1,61.7 631.5,65.6 632.0,69.3 C632.5,73.0 632.0,77.3 631.2,80.3 C630.4,83.2 629.1,85.5 627.0,87.0 C624.9,88.5 622.0,88.9 618.8,89.2 C615.6,89.5 610.7,89.2 607.7,88.6 C604.7,87.9 602.6,86.6 600.8,85.3 C598.9,84.0 598.0,81.9 596.6,80.8 C595.2,79.7 593.9,78.7 592.5,78.5 C591.1,78.3 589.0,78.8 588.0,79.5 C587.0,80.2 586.7,81.3 586.3,83.0 C585.9,84.7 586.1,87.6 585.6,89.6 C585.1,91.6 584.1,93.7 583.5,95.0 C582.9,96.3 582.7,96.7 581.7,97.4 C580.7,98.1 578.5,98.4 577.5,99.0 C576.5,99.6 576.0,100.1 575.5,101.0 C575.0,101.9 575.4,103.4 574.5,104.5 C573.6,105.6 571.9,107.0 570.0,107.5 C568.1,108.0 565.5,108.3 563.0,107.8 C560.5,107.3 557.4,106.0 555.0,104.5 C552.6,103.0 550.2,101.1 548.5,99.0 C546.8,96.9 545.4,94.0 544.5,92.0 C543.6,90.0 543.3,88.4 543.3,87.0 C543.3,85.6 544.6,84.8 544.5,83.5 C544.4,82.2 543.6,81.4 542.6,79.2 C541.6,77.0 539.3,72.7 538.3,70.6 C537.3,68.5 536.5,68.6 536.5,66.5 Z"/></clipPath>
<clipPath id="ccer"><path d="M544.5,83.5 C545.6,82.1 547.9,79.9 550.0,78.5 C552.1,77.1 554.7,75.7 557.0,75.2 C559.3,74.7 561.9,75.1 564.0,75.5 C566.1,75.9 568.0,76.7 569.5,77.5 C571.0,78.3 572.2,79.1 573.0,80.5 C573.8,81.9 574.2,83.9 574.5,86.0 C574.8,88.1 574.9,90.8 575.0,93.0 C575.1,95.2 575.3,97.1 575.2,99.0 C575.1,100.9 575.4,103.1 574.5,104.5 C573.6,105.9 571.9,107.0 570.0,107.5 C568.1,108.0 565.5,108.3 563.0,107.8 C560.5,107.3 557.4,106.0 555.0,104.5 C552.6,103.0 550.2,101.1 548.5,99.0 C546.8,96.9 545.4,94.0 544.5,92.0 C543.6,90.0 543.3,88.4 543.3,87.0 C543.3,85.6 543.4,84.9 544.5,83.5 Z"/></clipPath>
<clipPath id="cteal"><path d="M561.9,33.8 C563.2,32.8 566.1,31.5 567.7,30.9 C569.3,30.3 569.8,30.2 571.6,30.1 C573.4,30.0 576.5,30.1 578.5,30.4 C580.5,30.7 582.1,31.2 583.4,31.9 C584.7,32.6 585.3,33.3 586.3,34.8 C587.3,36.3 588.2,38.9 589.2,40.7 C590.2,42.5 591.6,44.4 592.2,45.6 C592.9,46.8 593.6,47.4 593.1,48.0 C592.6,48.6 590.8,49.2 589.2,49.5 C587.6,49.8 585.7,50.1 583.4,50.0 C581.1,49.9 577.9,49.2 575.6,49.0 C573.3,48.8 571.5,48.8 569.7,48.5 C567.9,48.2 566.1,47.6 564.8,47.0 C563.5,46.4 562.7,45.8 561.9,44.6 C561.1,43.4 560.2,41.0 559.9,39.7 C559.6,38.4 559.6,37.8 559.9,36.8 C560.2,35.8 560.6,34.8 561.9,33.8 Z"/></clipPath>
<radialGradient id="vig" cx="0.5" cy="0.5" r="0.55"><stop offset="0.68" stop-color="#000" stop-opacity="0"/><stop offset="0.95" stop-color="#000" stop-opacity="0.5"/></radialGradient>
<linearGradient id="stemg" x1="0" y1="0" x2="0" y2="1"><stop offset="0" stop-color="#b8b8b8"/><stop offset="1" stop-color="#a2a2a2"/></linearGradient>
</defs>
<line x1="453.5" y1="51.7" x2="533.8" y2="51.7" stroke="#c8c8c8" stroke-width="0.7" opacity="0.8"/>
<line x1="453.5" y1="57" x2="533.8" y2="57" stroke="#b8b8c0" stroke-width="0.7" opacity="0.8"/>
<g clip-path="url(#ctop)">
<rect x="450" y="8" width="90" height="100" filter="url(#embT)"/>
<g style="mix-blend-mode:multiply">
<ellipse cx="499" cy="72" rx="27" ry="20" fill="#7a5cb8" opacity="0.55" filter="url(#bl3)"/>
<ellipse cx="485" cy="86" rx="10" ry="10" fill="#8a68c4" opacity="0.45" filter="url(#bl3)"/>
<ellipse cx="478" cy="70" rx="9" ry="8" fill="#9a78cc" opacity="0.6" filter="url(#bl2)"/>
<ellipse cx="494" cy="88" rx="14" ry="10" fill="#9a78cc" opacity="0.55" filter="url(#bl3)"/>
<ellipse cx="494.5" cy="55" rx="4" ry="38" fill="#6a40b0" opacity="0.55" filter="url(#bl2)"/>
<ellipse cx="514" cy="62" rx="9" ry="7" fill="#6a3aa8" opacity="0.5" filter="url(#bl2)"/>
<ellipse cx="499" cy="64" rx="5" ry="4" fill="#4a6aa0" opacity="0.4" filter="url(#bl2)"/>
<ellipse cx="486" cy="58" rx="5" ry="4" fill="#6a3aa8" opacity="0.45" filter="url(#bl2)"/>
<ellipse cx="466" cy="70" rx="9" ry="34" fill="#c89060" opacity="0.4" filter="url(#bl3)"/>
<ellipse cx="478" cy="98" rx="9" ry="6" fill="#c89060" opacity="0.35" filter="url(#bl2)"/>
<ellipse cx="470" cy="36" rx="4" ry="10" fill="#d0a888" opacity="0.35" filter="url(#bl2)"/>
</g>
<rect x="450" y="8" width="90" height="100" fill="url(#vig)"/>
<line x1="494.3" y1="13" x2="494.3" y2="106" stroke="#1e1828" stroke-width="1.3" opacity="0.85"/>
</g>
<path d="M494.0,14.8 C496.0,14.8 497.7,12.9 500.0,12.8 C502.3,12.7 505.4,12.4 508.0,14.2 C510.6,16.0 513.2,20.6 515.5,23.5 C517.8,26.4 519.8,28.6 521.5,31.5 C523.2,34.4 524.5,36.8 526.0,41.0 C527.5,45.2 529.3,52.1 530.2,56.9 C531.1,61.7 531.5,66.2 531.4,70.0 C531.3,73.8 530.4,76.7 529.5,80.0 C528.6,83.3 528.0,86.3 526.2,89.6 C524.4,92.8 521.2,97.0 518.5,99.5 C515.8,102.0 512.8,103.5 510.0,104.8 C507.2,106.1 503.9,107.3 501.5,107.3 C499.1,107.3 497.5,105.0 495.4,105.0 C493.3,105.0 491.6,107.6 489.0,107.6 C486.4,107.6 483.0,106.2 480.0,104.8 C477.0,103.4 473.8,101.5 471.0,99.0 C468.2,96.5 465.1,93.1 463.0,90.0 C460.9,86.9 459.3,83.7 458.3,80.4 C457.3,77.1 457.1,73.9 456.9,70.0 C456.7,66.1 456.4,61.7 457.2,56.9 C458.0,52.1 460.1,45.2 461.6,41.0 C463.1,36.8 464.3,34.4 466.2,31.5 C468.1,28.6 470.5,26.4 472.8,23.5 C475.1,20.6 477.5,16.0 480.0,14.2 C482.5,12.4 485.7,12.7 488.0,12.8 C490.3,12.9 492.0,14.8 494.0,14.8 Z" fill="none" stroke="#4a4752" stroke-width="0.7"/>
<line x1="453.5" y1="51.7" x2="533.8" y2="51.7" stroke="#c8c8c8" stroke-width="0.7" opacity="0.25"/>
<line x1="453.5" y1="57" x2="533.8" y2="57" stroke="#b8b0c8" stroke-width="0.7" opacity="0.35"/>
<mask id="ring" maskUnits="userSpaceOnUse" x="520" y="15" width="130" height="105"><path d="M536.5,66.5 C536.5,64.4 537.0,60.7 538.0,58.2 C539.0,55.7 540.8,53.4 542.7,51.3 C544.6,49.2 547.5,47.3 549.6,45.7 C551.7,44.1 553.9,42.7 555.5,41.5 C557.1,40.3 558.2,39.5 559.5,38.3 C560.8,37.1 561.0,35.4 563.0,34.2 C565.0,33.0 568.4,31.7 571.7,31.0 C575.0,30.3 579.3,30.0 582.8,30.2 C586.3,30.4 589.3,31.4 592.5,32.4 C595.7,33.4 598.8,34.5 602.2,36.0 C605.7,37.5 610.0,39.5 613.2,41.6 C616.4,43.7 619.0,45.7 621.5,48.5 C624.0,51.3 626.6,54.7 628.4,58.2 C630.1,61.7 631.5,65.6 632.0,69.3 C632.5,73.0 632.0,77.3 631.2,80.3 C630.4,83.2 629.1,85.5 627.0,87.0 C624.9,88.5 622.0,88.9 618.8,89.2 C615.6,89.5 610.7,89.2 607.7,88.6 C604.7,87.9 602.6,86.6 600.8,85.3 C598.9,84.0 598.0,81.9 596.6,80.8 C595.2,79.7 593.9,78.7 592.5,78.5 C591.1,78.3 589.0,78.8 588.0,79.5 C587.0,80.2 586.7,81.3 586.3,83.0 C585.9,84.7 586.1,87.6 585.6,89.6 C585.1,91.6 584.1,93.7 583.5,95.0 C582.9,96.3 582.7,96.7 581.7,97.4 C580.7,98.1 578.5,98.4 577.5,99.0 C576.5,99.6 576.0,100.1 575.5,101.0 C575.0,101.9 575.4,103.4 574.5,104.5 C573.6,105.6 571.9,107.0 570.0,107.5 C568.1,108.0 565.5,108.3 563.0,107.8 C560.5,107.3 557.4,106.0 555.0,104.5 C552.6,103.0 550.2,101.1 548.5,99.0 C546.8,96.9 545.4,94.0 544.5,92.0 C543.6,90.0 543.3,88.4 543.3,87.0 C543.3,85.6 544.6,84.8 544.5,83.5 C544.4,82.2 543.6,81.4 542.6,79.2 C541.6,77.0 539.3,72.7 538.3,70.6 C537.3,68.5 536.5,68.6 536.5,66.5 Z" fill="none" stroke="#fff" stroke-width="17" filter="url(#bl2)"/></mask>
<g clip-path="url(#csag)">
<rect x="530" y="25" width="110" height="85" fill="#b4b4b4"/>
<rect x="530" y="25" width="110" height="85" filter="url(#embS)" opacity="0.6"/>
<rect x="530" y="25" width="110" height="85" filter="url(#embS)" mask="url(#ring)"/>
<path d="M558.5,63.6 L559.7,61.0 L561.3,58.5 L563.1,56.1 L565.2,53.9 L567.5,51.9 L570.0,50.1 L572.7,48.5 L575.6,47.2 L578.6,46.1 L581.7,45.3 L584.8,44.8 L588.1,44.5 L591.3,44.5 L594.5,44.8 L597.7,45.4 L600.8,46.2 L603.8,47.4 L606.6,48.7 L609.3,50.3 L611.8,52.1 L614.1,54.1 L616.1,56.4 L617.9,58.7 L619.4,61.2 L620.6,63.9 L621.6,66.6 L622.2,69.4 L622.5,72.2 L622.5,75.1 L622.1,77.9 L621.5,80.7 L620.5,83.4 L619.3,86.0 L617.7,88.5 L615.9,90.9 L613.8,93.1 L611.5,95.1 L609.0,96.9 L606.3,98.5 L603.4,99.8" fill="none" stroke="#d8d8d8" stroke-width="3.2" opacity="0.85"/>
<path d="M561.0,64.5 L562.2,62.1 L563.6,59.9 L565.3,57.7 L567.2,55.7 L569.3,53.9 L571.6,52.3 L574.1,50.9 L576.7,49.7 L579.4,48.7 L582.3,48.0 L585.2,47.5 L588.2,47.2 L591.2,47.2 L594.1,47.5 L597.0,48.0 L599.9,48.8 L602.6,49.8 L605.2,51.0 L607.7,52.5 L610.0,54.1 L612.1,55.9 L613.9,57.9 L615.6,60.1 L617.0,62.4 L618.1,64.8 L618.9,67.2 L619.5,69.8 L619.8,72.4 L619.8,74.9 L619.4,77.5 L618.9,80.0 L618.0,82.5 L616.8,84.9 L615.4,87.1 L613.7,89.3 L611.8,91.3 L609.7,93.1 L607.4,94.7 L604.9,96.1 L602.3,97.3" fill="none" stroke="#5e5e5e" stroke-width="0.9" opacity="0.75"/>
<path d="M563.4,65.4 L564.4,63.2 L565.7,61.2 L567.3,59.2 L569.0,57.4 L570.9,55.8 L573.1,54.3 L575.3,53.0 L577.8,51.9 L580.3,51.0 L582.9,50.4 L585.6,49.9 L588.3,49.7 L591.0,49.7 L593.7,50.0 L596.4,50.4 L599.0,51.1 L601.5,52.0 L603.9,53.2 L606.2,54.5 L608.3,56.0 L610.2,57.6 L611.9,59.4 L613.4,61.4 L614.7,63.4 L615.7,65.6 L616.5,67.8 L617.0,70.1 L617.3,72.5 L617.3,74.8 L617.0,77.1 L616.4,79.4 L615.6,81.6 L614.6,83.8 L613.3,85.8 L611.7,87.8 L610.0,89.6 L608.1,91.2 L605.9,92.7 L603.7,94.0 L601.2,95.1" fill="none" stroke="#a2a2a2" stroke-width="3.2" opacity="0.9"/>
<path d="M565.4,66.1 L566.4,64.2 L567.6,62.3 L569.0,60.5 L570.6,58.9 L572.4,57.4 L574.4,56.1 L576.5,54.9 L578.7,53.9 L581.0,53.1 L583.4,52.5 L585.9,52.1 L588.4,51.9 L590.9,51.9 L593.4,52.2 L595.9,52.6 L598.3,53.2 L600.6,54.0 L602.8,55.0 L604.9,56.2 L606.8,57.6 L608.6,59.1 L610.1,60.7 L611.5,62.5 L612.7,64.4 L613.7,66.3 L614.4,68.4 L614.8,70.4 L615.1,72.6 L615.1,74.7 L614.8,76.8 L614.3,78.9 L613.6,80.9 L612.6,82.8 L611.4,84.7 L610.0,86.5 L608.4,88.1 L606.6,89.6 L604.6,90.9 L602.5,92.1 L600.3,93.1" fill="none" stroke="#6a6a6a" stroke-width="0.8" opacity="0.7"/>
<ellipse cx="584.3" cy="40.6" rx="1.9" ry="1.9" fill="#4e4e4e" opacity="0.85" filter="url(#bl05)"/>
<ellipse cx="588.9" cy="40.3" rx="1.9" ry="1.9" fill="#4e4e4e" opacity="0.85" filter="url(#bl05)"/>
<ellipse cx="593.4" cy="40.5" rx="1.9" ry="1.9" fill="#4e4e4e" opacity="0.85" filter="url(#bl05)"/>
<ellipse cx="597.9" cy="41.2" rx="1.9" ry="1.9" fill="#4e4e4e" opacity="0.85" filter="url(#bl05)"/>
<ellipse cx="602.2" cy="42.3" rx="1.9" ry="1.9" fill="#4e4e4e" opacity="0.85" filter="url(#bl05)"/>
<ellipse cx="606.4" cy="43.9" rx="1.9" ry="1.9" fill="#4e4e4e" opacity="0.85" filter="url(#bl05)"/>
<ellipse cx="610.3" cy="46.0" rx="1.9" ry="1.9" fill="#4e4e4e" opacity="0.85" filter="url(#bl05)"/>
<ellipse cx="613.9" cy="48.4" rx="1.9" ry="1.9" fill="#4e4e4e" opacity="0.85" filter="url(#bl05)"/>
<ellipse cx="617.1" cy="51.3" rx="1.9" ry="1.9" fill="#4e4e4e" opacity="0.85" filter="url(#bl05)"/>
<ellipse cx="620.0" cy="54.5" rx="1.9" ry="1.9" fill="#4e4e4e" opacity="0.85" filter="url(#bl05)"/>
<ellipse cx="622.3" cy="57.9" rx="1.9" ry="1.9" fill="#4e4e4e" opacity="0.85" filter="url(#bl05)"/>
<ellipse cx="624.2" cy="61.6" rx="1.9" ry="1.9" fill="#4e4e4e" opacity="0.85" filter="url(#bl05)"/>
<ellipse cx="625.6" cy="65.5" rx="1.9" ry="1.9" fill="#4e4e4e" opacity="0.85" filter="url(#bl05)"/>
<ellipse cx="626.4" cy="69.5" rx="1.9" ry="1.9" fill="#4e4e4e" opacity="0.85" filter="url(#bl05)"/>
<ellipse cx="626.7" cy="73.5" rx="1.9" ry="1.9" fill="#4e4e4e" opacity="0.85" filter="url(#bl05)"/>
<ellipse cx="626.4" cy="77.5" rx="1.9" ry="1.9" fill="#4e4e4e" opacity="0.85" filter="url(#bl05)"/>
<ellipse cx="625.6" cy="81.5" rx="1.9" ry="1.9" fill="#4e4e4e" opacity="0.85" filter="url(#bl05)"/>
<ellipse cx="624.2" cy="85.4" rx="1.9" ry="1.9" fill="#4e4e4e" opacity="0.85" filter="url(#bl05)"/>
<ellipse cx="622.3" cy="89.1" rx="1.9" ry="1.9" fill="#4e4e4e" opacity="0.85" filter="url(#bl05)"/>
<ellipse cx="620.0" cy="92.5" rx="1.9" ry="1.9" fill="#4e4e4e" opacity="0.85" filter="url(#bl05)"/>
<ellipse cx="617.1" cy="95.7" rx="1.9" ry="1.9" fill="#4e4e4e" opacity="0.85" filter="url(#bl05)"/>
<ellipse cx="613.9" cy="98.6" rx="1.9" ry="1.9" fill="#4e4e4e" opacity="0.85" filter="url(#bl05)"/>
<ellipse cx="610.3" cy="101.0" rx="1.9" ry="1.9" fill="#4e4e4e" opacity="0.85" filter="url(#bl05)"/>
<ellipse cx="606.4" cy="103.1" rx="1.9" ry="1.9" fill="#4e4e4e" opacity="0.85" filter="url(#bl05)"/>
<path d="M566.5,66.0 C567.2,65.1 569.1,62.0 571.0,60.5 C572.9,59.0 574.6,58.1 577.6,57.3 C580.6,56.5 585.4,55.8 589.3,55.9 C593.2,56.0 597.8,56.8 601.0,58.0 C604.2,59.2 606.6,61.1 608.3,63.2 C610.0,65.3 611.0,68.1 611.2,70.5 C611.5,72.9 610.8,75.8 609.8,77.8 C608.8,79.8 606.1,81.5 605.4,82.2 " fill="none" stroke="#7a7a7a" stroke-width="6.5" opacity="0.6" filter="url(#bl05)"/>
<path d="M566.5,66.0 C567.2,65.1 569.1,62.0 571.0,60.5 C572.9,59.0 574.6,58.1 577.6,57.3 C580.6,56.5 585.4,55.8 589.3,55.9 C593.2,56.0 597.8,56.8 601.0,58.0 C604.2,59.2 606.6,61.1 608.3,63.2 C610.0,65.3 611.0,68.1 611.2,70.5 C611.5,72.9 610.8,75.8 609.8,77.8 C608.8,79.8 606.1,81.5 605.4,82.2 " fill="none" stroke="#dedede" stroke-width="3.6"/>
<path d="M566.5,66.0 C567.2,65.1 569.1,62.0 571.0,60.5 C572.9,59.0 574.6,58.1 577.6,57.3 C580.6,56.5 585.4,55.8 589.3,55.9 C593.2,56.0 597.8,56.8 601.0,58.0 C604.2,59.2 606.6,61.1 608.3,63.2 C610.0,65.3 611.0,68.1 611.2,70.5 C611.5,72.9 610.8,75.8 609.8,77.8 C608.8,79.8 606.1,81.5 605.4,82.2 " fill="none" stroke="#f2f2f2" stroke-width="1.2" transform="translate(0.6,1.2)"/>
</g>
<clipPath id="cstem"><path d="M574.2,71.6 C574.4,69.8 575.1,68.2 576.0,67.0 C576.9,65.8 578.3,65.0 579.6,64.4 C580.9,63.8 582.6,63.5 584.0,63.4 C585.4,63.2 586.5,63.4 587.7,63.5 C588.9,63.6 590.0,63.9 591.0,64.3 C592.0,64.7 592.8,65.0 593.4,66.0 C594.0,67.0 594.4,68.8 594.5,70.5 C594.6,72.2 594.7,74.8 594.2,76.5 C593.8,78.2 592.8,79.5 591.8,80.5 C590.8,81.5 589.3,81.5 588.5,82.2 C587.7,82.9 587.3,83.3 586.9,84.5 C586.5,85.7 586.5,87.8 586.1,89.5 C585.7,91.2 585.0,93.0 584.5,94.4 C584.0,95.8 583.6,96.8 582.8,97.7 C582.0,98.7 580.6,99.7 579.6,100.1 C578.6,100.5 577.4,100.8 576.5,100.3 C575.6,99.8 574.8,98.2 574.3,97.0 C573.8,95.8 573.4,94.9 573.3,92.8 C573.2,90.7 573.5,87.1 573.7,84.6 C573.9,82.1 574.5,80.2 574.6,78.0 C574.7,75.8 574.0,73.4 574.2,71.6 Z"/></clipPath>
<path d="M568.3,69.5 C568.5,68.3 570.0,66.0 571.5,64.5 C573.0,63.0 575.2,61.6 577.5,60.8 C579.8,60.0 583.0,59.7 585.5,59.6 C588.0,59.5 590.3,59.7 592.5,60.2 C594.7,60.7 597.0,61.7 598.5,62.6 C600.0,63.5 601.5,65.1 601.2,65.6 C601.0,66.1 598.3,65.6 597.0,65.4 C595.7,65.2 594.9,64.7 593.4,64.2 C591.9,63.7 589.6,62.6 588.0,62.3 C586.4,62.0 585.0,62.1 583.5,62.2 C582.0,62.4 580.4,62.6 579.0,63.2 C577.6,63.8 576.3,64.8 575.3,65.8 C574.3,66.8 573.6,68.5 572.8,69.5 C572.0,70.5 571.2,71.8 570.5,71.8 C569.8,71.8 568.1,70.7 568.3,69.5 Z" fill="#fdfdfd"/>
<path d="M574.2,71.6 C574.4,69.8 575.1,68.2 576.0,67.0 C576.9,65.8 578.3,65.0 579.6,64.4 C580.9,63.8 582.6,63.5 584.0,63.4 C585.4,63.2 586.5,63.4 587.7,63.5 C588.9,63.6 590.0,63.9 591.0,64.3 C592.0,64.7 592.8,65.0 593.4,66.0 C594.0,67.0 594.4,68.8 594.5,70.5 C594.6,72.2 594.7,74.8 594.2,76.5 C593.8,78.2 592.8,79.5 591.8,80.5 C590.8,81.5 589.3,81.5 588.5,82.2 C587.7,82.9 587.3,83.3 586.9,84.5 C586.5,85.7 586.5,87.8 586.1,89.5 C585.7,91.2 585.0,93.0 584.5,94.4 C584.0,95.8 583.6,96.8 582.8,97.7 C582.0,98.7 580.6,99.7 579.6,100.1 C578.6,100.5 577.4,100.8 576.5,100.3 C575.6,99.8 574.8,98.2 574.3,97.0 C573.8,95.8 573.4,94.9 573.3,92.8 C573.2,90.7 573.5,87.1 573.7,84.6 C573.9,82.1 574.5,80.2 574.6,78.0 C574.7,75.8 574.0,73.4 574.2,71.6 Z" fill="url(#stemg)"/>
<g clip-path="url(#cstem)"><rect x="570" y="60" width="28" height="42" filter="url(#embS)" opacity="0.28"/></g>
<path d="M574.2,71.6 C574.4,69.8 575.1,68.2 576.0,67.0 C576.9,65.8 578.3,65.0 579.6,64.4 C580.9,63.8 582.6,63.5 584.0,63.4 C585.4,63.2 586.5,63.4 587.7,63.5 C588.9,63.6 590.0,63.9 591.0,64.3 C592.0,64.7 592.8,65.0 593.4,66.0 C594.0,67.0 594.4,68.8 594.5,70.5 C594.6,72.2 594.7,74.8 594.2,76.5 C593.8,78.2 592.8,79.5 591.8,80.5 C590.8,81.5 589.3,81.5 588.5,82.2 C587.7,82.9 587.3,83.3 586.9,84.5 C586.5,85.7 586.5,87.8 586.1,89.5 C585.7,91.2 585.0,93.0 584.5,94.4 C584.0,95.8 583.6,96.8 582.8,97.7 C582.0,98.7 580.6,99.7 579.6,100.1 C578.6,100.5 577.4,100.8 576.5,100.3 C575.6,99.8 574.8,98.2 574.3,97.0 C573.8,95.8 573.4,94.9 573.3,92.8 C573.2,90.7 573.5,87.1 573.7,84.6 C573.9,82.1 574.5,80.2 574.6,78.0 C574.7,75.8 574.0,73.4 574.2,71.6 Z" fill="none" stroke="#3c3c3c" stroke-width="0.6"/>
<ellipse cx="598" cy="70.3" rx="4.5" ry="4.6" fill="#6e6e6e"/>
<path d="M566.8,69.2 C567.5,68.3 568.8,68.0 570.0,67.6 C571.2,67.2 573.1,66.1 574.0,66.6 C574.9,67.1 575.1,69.1 575.4,70.5 C575.7,71.9 576.0,73.9 575.6,75.0 C575.2,76.1 574.4,77.2 573.2,77.2 C572.0,77.2 569.9,75.9 568.6,75.2 C567.3,74.5 565.9,74.2 565.6,73.2 C565.3,72.2 566.1,70.1 566.8,69.2 Z" fill="#fff"/>
<g clip-path="url(#ccer)">
<rect x="540" y="72" width="40" height="38" fill="#8e8e8e"/>
<rect x="540" y="72" width="40" height="38" filter="url(#embS)" opacity="0.5"/>
<line x1="560.1" y1="97.1" x2="558.5" y2="107.7" stroke="#cfcfcf" stroke-width="0.75" opacity="0.6"/>
<line x1="559.0" y1="98.9" x2="556.5" y2="109.3" stroke="#555" stroke-width="0.55" opacity="0.45"/>
<line x1="558.6" y1="97.0" x2="555.4" y2="105.2" stroke="#cfcfcf" stroke-width="0.75" opacity="0.6"/>
<line x1="557.1" y1="98.6" x2="553.1" y2="106.4" stroke="#555" stroke-width="0.55" opacity="0.45"/>
<line x1="557.4" y1="97.4" x2="553.1" y2="105.2" stroke="#cfcfcf" stroke-width="0.75" opacity="0.6"/>
<line x1="555.7" y1="98.7" x2="550.6" y2="106.1" stroke="#555" stroke-width="0.55" opacity="0.45"/>
<line x1="555.7" y1="97.0" x2="549.5" y2="104.0" stroke="#cfcfcf" stroke-width="0.75" opacity="0.6"/>
<line x1="553.7" y1="97.8" x2="546.9" y2="104.2" stroke="#555" stroke-width="0.55" opacity="0.45"/>
<line x1="556.1" y1="94.3" x2="545.9" y2="101.2" stroke="#cfcfcf" stroke-width="0.75" opacity="0.6"/>
<line x1="554.1" y1="94.8" x2="543.2" y2="100.6" stroke="#555" stroke-width="0.55" opacity="0.45"/>
<line x1="555.2" y1="94.0" x2="543.8" y2="99.8" stroke="#cfcfcf" stroke-width="0.75" opacity="0.6"/>
<line x1="553.1" y1="94.1" x2="541.2" y2="98.9" stroke="#555" stroke-width="0.55" opacity="0.45"/>
<line x1="554.2" y1="92.7" x2="543.2" y2="95.4" stroke="#cfcfcf" stroke-width="0.75" opacity="0.6"/>
<line x1="552.1" y1="92.3" x2="540.9" y2="94.0" stroke="#555" stroke-width="0.55" opacity="0.45"/>
<line x1="554.0" y1="91.7" x2="543.1" y2="92.8" stroke="#cfcfcf" stroke-width="0.75" opacity="0.6"/>
<line x1="552.0" y1="91.0" x2="541.0" y2="91.0" stroke="#555" stroke-width="0.55" opacity="0.45"/>
<line x1="556.9" y1="90.5" x2="541.8" y2="88.7" stroke="#cfcfcf" stroke-width="0.75" opacity="0.6"/>
<line x1="555.0" y1="89.7" x2="540.2" y2="86.5" stroke="#555" stroke-width="0.55" opacity="0.45"/>
<line x1="554.5" y1="88.8" x2="542.6" y2="84.7" stroke="#cfcfcf" stroke-width="0.75" opacity="0.6"/>
<line x1="552.9" y1="87.3" x2="541.5" y2="82.2" stroke="#555" stroke-width="0.55" opacity="0.45"/>
<line x1="554.4" y1="87.0" x2="546.5" y2="82.2" stroke="#cfcfcf" stroke-width="0.75" opacity="0.6"/>
<line x1="553.2" y1="85.2" x2="545.8" y2="79.6" stroke="#555" stroke-width="0.55" opacity="0.45"/>
<line x1="556.8" y1="87.1" x2="546.6" y2="77.6" stroke="#cfcfcf" stroke-width="0.75" opacity="0.6"/>
<line x1="555.8" y1="85.2" x2="546.6" y2="74.8" stroke="#555" stroke-width="0.55" opacity="0.45"/>
<line x1="558.4" y1="87.4" x2="551.8" y2="78.3" stroke="#cfcfcf" stroke-width="0.75" opacity="0.6"/>
<line x1="557.8" y1="85.5" x2="552.1" y2="75.7" stroke="#555" stroke-width="0.55" opacity="0.45"/>
<line x1="557.2" y1="84.1" x2="552.7" y2="75.9" stroke="#cfcfcf" stroke-width="0.75" opacity="0.6"/>
<line x1="557.1" y1="81.9" x2="553.4" y2="73.4" stroke="#555" stroke-width="0.55" opacity="0.45"/>
<line x1="559.6" y1="86.0" x2="556.4" y2="74.1" stroke="#cfcfcf" stroke-width="0.75" opacity="0.6"/>
<line x1="559.8" y1="83.9" x2="557.7" y2="71.7" stroke="#555" stroke-width="0.55" opacity="0.45"/>
<line x1="560.5" y1="85.6" x2="559.2" y2="73.2" stroke="#cfcfcf" stroke-width="0.75" opacity="0.6"/>
<line x1="561.0" y1="83.6" x2="560.9" y2="71.1" stroke="#555" stroke-width="0.55" opacity="0.45"/>
<line x1="561.9" y1="83.4" x2="563.1" y2="72.7" stroke="#cfcfcf" stroke-width="0.75" opacity="0.6"/>
<line x1="563.0" y1="81.6" x2="565.2" y2="71.0" stroke="#555" stroke-width="0.55" opacity="0.45"/>
<line x1="563.5" y1="84.0" x2="567.7" y2="72.2" stroke="#cfcfcf" stroke-width="0.75" opacity="0.6"/>
<line x1="565.0" y1="82.5" x2="570.3" y2="71.1" stroke="#555" stroke-width="0.55" opacity="0.45"/>
<line x1="563.3" y1="86.9" x2="570.4" y2="74.1" stroke="#cfcfcf" stroke-width="0.75" opacity="0.6"/>
<line x1="564.8" y1="85.5" x2="573.1" y2="73.4" stroke="#555" stroke-width="0.55" opacity="0.45"/>
<line x1="566.1" y1="85.3" x2="572.9" y2="77.7" stroke="#cfcfcf" stroke-width="0.75" opacity="0.6"/>
<line x1="568.1" y1="84.5" x2="575.6" y2="77.5" stroke="#555" stroke-width="0.55" opacity="0.45"/>
<line x1="564.8" y1="88.0" x2="575.9" y2="79.0" stroke="#cfcfcf" stroke-width="0.75" opacity="0.6"/>
<line x1="566.7" y1="87.3" x2="578.7" y2="79.4" stroke="#555" stroke-width="0.55" opacity="0.45"/>
<line x1="565.5" y1="88.5" x2="574.5" y2="83.7" stroke="#cfcfcf" stroke-width="0.75" opacity="0.6"/>
<line x1="567.6" y1="88.2" x2="576.9" y2="84.2" stroke="#555" stroke-width="0.55" opacity="0.45"/>
<ellipse cx="567" cy="99" rx="5" ry="7" fill="#adadad" opacity="0.6" filter="url(#bl1)"/>
</g>
<path d="M544.5,83.5 C545.6,82.1 547.9,79.9 550.0,78.5 C552.1,77.1 554.7,75.7 557.0,75.2 C559.3,74.7 561.9,75.1 564.0,75.5 C566.1,75.9 568.0,76.7 569.5,77.5 C571.0,78.3 572.2,79.1 573.0,80.5 C573.8,81.9 574.2,83.9 574.5,86.0 C574.8,88.1 574.9,90.8 575.0,93.0 C575.1,95.2 575.3,97.1 575.2,99.0 C575.1,100.9 575.4,103.1 574.5,104.5 C573.6,105.9 571.9,107.0 570.0,107.5 C568.1,108.0 565.5,108.3 563.0,107.8 C560.5,107.3 557.4,106.0 555.0,104.5 C552.6,103.0 550.2,101.1 548.5,99.0 C546.8,96.9 545.4,94.0 544.5,92.0 C543.6,90.0 543.3,88.4 543.3,87.0 C543.3,85.6 543.4,84.9 544.5,83.5 Z" fill="none" stroke="#4c4c4c" stroke-width="0.6"/>
<path d="M561.9,33.8 C563.2,32.8 566.1,31.5 567.7,30.9 C569.3,30.3 569.8,30.2 571.6,30.1 C573.4,30.0 576.5,30.1 578.5,30.4 C580.5,30.7 582.1,31.2 583.4,31.9 C584.7,32.6 585.3,33.3 586.3,34.8 C587.3,36.3 588.2,38.9 589.2,40.7 C590.2,42.5 591.6,44.4 592.2,45.6 C592.9,46.8 593.6,47.4 593.1,48.0 C592.6,48.6 590.8,49.2 589.2,49.5 C587.6,49.8 585.7,50.1 583.4,50.0 C581.1,49.9 577.9,49.2 575.6,49.0 C573.3,48.8 571.5,48.8 569.7,48.5 C567.9,48.2 566.1,47.6 564.8,47.0 C563.5,46.4 562.7,45.8 561.9,44.6 C561.1,43.4 560.2,41.0 559.9,39.7 C559.6,38.4 559.6,37.8 559.9,36.8 C560.2,35.8 560.6,34.8 561.9,33.8 Z" fill="#2d8690"/>
<g clip-path="url(#cteal)">
<ellipse cx="578" cy="35.5" rx="8" ry="5" fill="#3aa57e" filter="url(#bl2)"/>
<ellipse cx="566" cy="41" rx="4" ry="4" fill="#34988a" filter="url(#bl1)"/>
<ellipse cx="588" cy="45" rx="4" ry="3" fill="#2c6f98" filter="url(#bl1)"/>
<ellipse cx="573.2" cy="43.2" rx="2.6" ry="2.3" fill="#3a2d74" opacity="0.85" filter="url(#bl1)"/>
<ellipse cx="581.5" cy="42.2" rx="2" ry="2.2" fill="#2b5c8c" opacity="0.8" filter="url(#bl1)"/>
</g>
<path d="M561.9,33.8 C563.2,32.8 566.1,31.5 567.7,30.9 C569.3,30.3 569.8,30.2 571.6,30.1 C573.4,30.0 576.5,30.1 578.5,30.4 C580.5,30.7 582.1,31.2 583.4,31.9 C584.7,32.6 585.3,33.3 586.3,34.8 C587.3,36.3 588.2,38.9 589.2,40.7 C590.2,42.5 591.6,44.4 592.2,45.6 C592.9,46.8 593.6,47.4 593.1,48.0 C592.6,48.6 590.8,49.2 589.2,49.5 C587.6,49.8 585.7,50.1 583.4,50.0 C581.1,49.9 577.9,49.2 575.6,49.0 C573.3,48.8 571.5,48.8 569.7,48.5 C567.9,48.2 566.1,47.6 564.8,47.0 C563.5,46.4 562.7,45.8 561.9,44.6 C561.1,43.4 560.2,41.0 559.9,39.7 C559.6,38.4 559.6,37.8 559.9,36.8 C560.2,35.8 560.6,34.8 561.9,33.8 Z" fill="none" stroke="#3f2478" stroke-width="1.0"/>
<path d="M592,48 C596,51 601,52.5 605,53" fill="none" stroke="#45287e" stroke-width="1.2" opacity="0.8"/>
<ellipse cx="598.8" cy="76.4" rx="3.7" ry="2.6" fill="#3b2a8e"/>
<ellipse cx="598.6" cy="76.3" rx="1.8" ry="1.2" fill="#3a58a8"/>
<circle cx="622.8" cy="85.6" r="1.1" fill="#4a2a80"/>
<circle cx="553.6" cy="60" r="0.7" fill="#5a3a8a"/>
<path d="M536.5,66.5 C536.5,64.4 537.0,60.7 538.0,58.2 C539.0,55.7 540.8,53.4 542.7,51.3 C544.6,49.2 547.5,47.3 549.6,45.7 C551.7,44.1 553.9,42.7 555.5,41.5 C557.1,40.3 558.2,39.5 559.5,38.3 C560.8,37.1 561.0,35.4 563.0,34.2 C565.0,33.0 568.4,31.7 571.7,31.0 C575.0,30.3 579.3,30.0 582.8,30.2 C586.3,30.4 589.3,31.4 592.5,32.4 C595.7,33.4 598.8,34.5 602.2,36.0 C605.7,37.5 610.0,39.5 613.2,41.6 C616.4,43.7 619.0,45.7 621.5,48.5 C624.0,51.3 626.6,54.7 628.4,58.2 C630.1,61.7 631.5,65.6 632.0,69.3 C632.5,73.0 632.0,77.3 631.2,80.3 C630.4,83.2 629.1,85.5 627.0,87.0 C624.9,88.5 622.0,88.9 618.8,89.2 C615.6,89.5 610.7,89.2 607.7,88.6 C604.7,87.9 602.6,86.6 600.8,85.3 C598.9,84.0 598.0,81.9 596.6,80.8 C595.2,79.7 593.9,78.7 592.5,78.5 C591.1,78.3 589.0,78.8 588.0,79.5 C587.0,80.2 586.7,81.3 586.3,83.0 C585.9,84.7 586.1,87.6 585.6,89.6 C585.1,91.6 584.1,93.7 583.5,95.0 C582.9,96.3 582.7,96.7 581.7,97.4 C580.7,98.1 578.5,98.4 577.5,99.0 C576.5,99.6 576.0,100.1 575.5,101.0 C575.0,101.9 575.4,103.4 574.5,104.5 C573.6,105.6 571.9,107.0 570.0,107.5 C568.1,108.0 565.5,108.3 563.0,107.8 C560.5,107.3 557.4,106.0 555.0,104.5 C552.6,103.0 550.2,101.1 548.5,99.0 C546.8,96.9 545.4,94.0 544.5,92.0 C543.6,90.0 543.3,88.4 543.3,87.0 C543.3,85.6 544.6,84.8 544.5,83.5 C544.4,82.2 543.6,81.4 542.6,79.2 C541.6,77.0 539.3,72.7 538.3,70.6 C537.3,68.5 536.5,68.6 536.5,66.5 Z" fill="none" stroke="#333" stroke-width="0.7"/>
<line x1="449.4" x2="449.4" y1="142.2" y2="262.2" stroke="#ebebeb" stroke-width="0.5"/>
<line x1="511.4" x2="511.4" y1="142.2" y2="262.2" stroke="#ebebeb" stroke-width="0.5"/>
<line x1="573.4" x2="573.4" y1="142.2" y2="262.2" stroke="#ebebeb" stroke-width="0.5"/>
<line x1="635.4" x2="635.4" y1="142.2" y2="262.2" stroke="#ebebeb" stroke-width="0.5"/>
<line x1="443.2" x2="682.0" y1="165.56" y2="165.56" stroke="#ebebeb" stroke-width="0.5"/>
<line x1="443.2" x2="682.0" y1="192.04" y2="192.04" stroke="#ebebeb" stroke-width="0.5"/>
<line x1="443.2" x2="682.0" y1="218.51" y2="218.51" stroke="#ebebeb" stroke-width="0.5"/>
<line x1="443.2" x2="682.0" y1="244.99" y2="244.99" stroke="#ebebeb" stroke-width="0.5"/>
<line x1="480.4" x2="480.4" y1="142.2" y2="262.2" stroke="#ebebeb" stroke-width="0.9"/>
<text x="480.4" y="274.2" text-anchor="middle" font-size="10.5" fill="#4d4d4d">1.0</text>
<line x1="542.4" x2="542.4" y1="142.2" y2="262.2" stroke="#ebebeb" stroke-width="0.9"/>
<text x="542.4" y="274.2" text-anchor="middle" font-size="10.5" fill="#4d4d4d">1.5</text>
<line x1="604.4" x2="604.4" y1="142.2" y2="262.2" stroke="#ebebeb" stroke-width="0.9"/>
<text x="604.4" y="274.2" text-anchor="middle" font-size="10.5" fill="#4d4d4d">2.0</text>
<line x1="666.4" x2="666.4" y1="142.2" y2="262.2" stroke="#ebebeb" stroke-width="0.9"/>
<text x="666.4" y="274.2" text-anchor="middle" font-size="10.5" fill="#4d4d4d">2.5</text>
<line x1="443.2" x2="682.0" y1="152.33" y2="152.33" stroke="#ebebeb" stroke-width="0.9"/>
<text x="440.6" y="156.03" text-anchor="end" font-size="10.5" fill="#4d4d4d">0.5</text>
<line x1="443.2" x2="682.0" y1="178.8" y2="178.8" stroke="#ebebeb" stroke-width="0.9"/>
<text x="440.6" y="182.5" text-anchor="end" font-size="10.5" fill="#4d4d4d">0.0</text>
<line x1="443.2" x2="682.0" y1="205.28" y2="205.28" stroke="#ebebeb" stroke-width="0.9"/>
<text x="440.6" y="208.97" text-anchor="end" font-size="10.5" fill="#4d4d4d">-0.5</text>
<line x1="443.2" x2="682.0" y1="231.75" y2="231.75" stroke="#ebebeb" stroke-width="0.9"/>
<text x="440.6" y="235.45" text-anchor="end" font-size="10.5" fill="#4d4d4d">-1.0</text>
<line x1="443.2" x2="682.0" y1="258.23" y2="258.23" stroke="#ebebeb" stroke-width="0.9"/>
<text x="440.6" y="261.93" text-anchor="end" font-size="10.5" fill="#4d4d4d">-1.5</text>
<circle cx="454.2" cy="177.6" r="2.05" fill="#1f78b4"/>
<circle cx="460.1" cy="172.9" r="2.05" fill="#1f78b4"/>
<circle cx="473.2" cy="181.7" r="2.05" fill="#1f78b4"/>
<circle cx="486.1" cy="164.5" r="2.05" fill="#1f78b4"/>
<circle cx="514.0" cy="164.4" r="2.05" fill="#1f78b4"/>
<circle cx="546.6" cy="172.8" r="2.05" fill="#1f78b4"/>
<circle cx="557.0" cy="186.5" r="2.05" fill="#1f78b4"/>
<circle cx="577.5" cy="182.0" r="2.05" fill="#1f78b4"/>
<circle cx="585.7" cy="175.7" r="2.05" fill="#1f78b4"/>
<circle cx="612.4" cy="187.3" r="2.05" fill="#1f78b4"/>
<circle cx="633.4" cy="179.8" r="2.05" fill="#1f78b4"/>
<path d="M478.60,187.70 L483.40,187.70 L481.00,183.60 Z" fill="#1f78b4"/>
<path d="M522.80,192.10 L527.60,192.10 L525.20,188.00 Z" fill="#1f78b4"/>
<circle cx="504.6" cy="189.2" r="2.05" fill="#c2d10c"/>
<circle cx="528.0" cy="162.9" r="2.05" fill="#c2d10c"/>
<circle cx="527.9" cy="175.9" r="2.05" fill="#c2d10c"/>
<circle cx="530.8" cy="181.5" r="2.05" fill="#c2d10c"/>
<circle cx="551.5" cy="173.8" r="2.05" fill="#c2d10c"/>
<circle cx="605.5" cy="150.4" r="2.05" fill="#c2d10c"/>
<circle cx="612.4" cy="176.8" r="2.05" fill="#c2d10c"/>
<circle cx="633.8" cy="184.9" r="2.05" fill="#c2d10c"/>
<circle cx="637.3" cy="191.2" r="2.05" fill="#c2d10c"/>
<path d="M525.10,182.70 L529.90,182.70 L527.50,178.60 Z" fill="#c2d10c"/>
<path d="M604.80,189.60 L609.60,189.60 L607.20,185.50 Z" fill="#c2d10c"/>
<path d="M601.60,192.10 L606.40,192.10 L604.00,188.00 Z" fill="#c2d10c"/>
<path d="M637.40,232.60 L642.20,232.60 L639.80,228.50 Z" fill="#c2d10c"/>
<path d="M668.70,259.00 L673.50,259.00 L671.10,254.90 Z" fill="#c2d10c"/>
<line x1="454.2" y1="166.8" x2="671.1" y2="201.1" stroke="#111" stroke-width="1.1"/>
<text x="497.3" y="236.1" font-size="10.6" fill="#111">r = -0.48, p = 0.011</text>
<text x="562.9" y="288.8" text-anchor="middle" font-size="16" fill="#111">Motor Cortex VC</text>
<text transform="translate(417,204.3) rotate(-90)" text-anchor="middle" font-size="16.2" fill="#111">Cognition z-score</text>
</svg>
</body></html>
